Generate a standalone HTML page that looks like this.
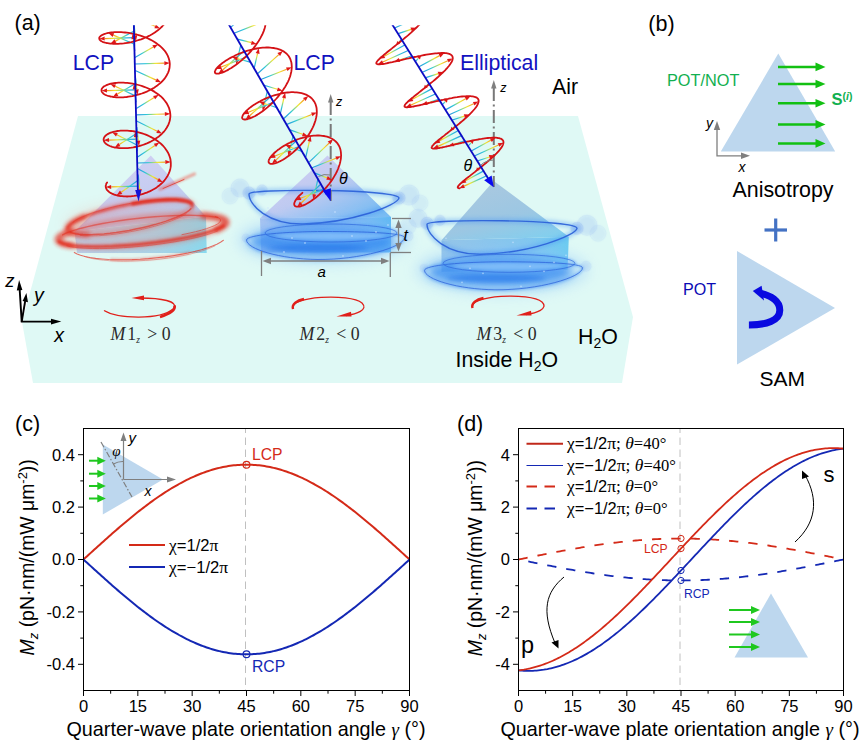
<!DOCTYPE html>
<html><head><meta charset="utf-8"><title>figure</title>
<style>html,body{margin:0;padding:0;background:#fff;}svg{display:block;}svg{font-family:"Liberation Sans",sans-serif;}</style>
</head><body>
<svg width="866" height="748" viewBox="0 0 866 748">
<rect width="866" height="748" fill="#fff"/>
<!-- panel a -->
<defs><filter id="blur1" filterUnits="userSpaceOnUse" x="0" y="120" width="700" height="200"><feGaussianBlur stdDeviation="1.1"/></filter><filter id="blur4" filterUnits="userSpaceOnUse" x="0" y="120" width="700" height="200"><feGaussianBlur stdDeviation="4"/></filter><filter id="blur6" filterUnits="userSpaceOnUse" x="0" y="120" width="700" height="200"><feGaussianBlur stdDeviation="7"/></filter><filter id="blur2" filterUnits="userSpaceOnUse" x="0" y="120" width="700" height="200"><feGaussianBlur stdDeviation="2.2"/></filter><filter id="blur05" filterUnits="userSpaceOnUse" x="0" y="120" width="700" height="200"><feGaussianBlur stdDeviation="0.5"/></filter><linearGradient id="pr1" x1="0.3" y1="0" x2="0.8" y2="1"><stop offset="0" stop-color="#d0ccf3"/><stop offset="0.55" stop-color="#c2c8f0"/><stop offset="1" stop-color="#9fd0f0"/></linearGradient>
<linearGradient id="pf1" x1="0" y1="0" x2="1" y2="0"><stop offset="0" stop-color="#b4cdea"/><stop offset="0.6" stop-color="#9fd2ea"/><stop offset="1" stop-color="#7fd6ee"/></linearGradient>
<linearGradient id="pr2" x1="0.15" y1="0.2" x2="0.9" y2="0.9"><stop offset="0" stop-color="#cdcaf2"/><stop offset="0.45" stop-color="#bcc6f0"/><stop offset="1" stop-color="#6fb6f2"/></linearGradient>
<linearGradient id="pf2" x1="0" y1="0" x2="1" y2="0"><stop offset="0" stop-color="#a4bcee"/><stop offset="0.7" stop-color="#74b0f2"/><stop offset="1" stop-color="#4eb0f2"/></linearGradient>
<linearGradient id="pr3" x1="0.2" y1="0" x2="0.8" y2="1"><stop offset="0" stop-color="#a9c6de"/><stop offset="0.6" stop-color="#98c4e2"/><stop offset="1" stop-color="#7ccdee"/></linearGradient>
<linearGradient id="pf3" x1="0" y1="0" x2="1" y2="0"><stop offset="0" stop-color="#8fc0e6"/><stop offset="0.7" stop-color="#78c2ee"/><stop offset="1" stop-color="#62c8f0"/></linearGradient>
<clipPath id="topclip"><rect x="0" y="25.2" width="866" height="400"/></clipPath>
<linearGradient id="ga0" gradientUnits="userSpaceOnUse" x1="133.4" y1="3.8" x2="157.3" y2="-8.5"><stop offset="0" stop-color="#2a90e0"/><stop offset="0.3" stop-color="#2cc8d8"/><stop offset="0.6" stop-color="#f2e630"/><stop offset="0.82" stop-color="#f49a20"/><stop offset="1" stop-color="#e01818"/></linearGradient>
<linearGradient id="ga1" gradientUnits="userSpaceOnUse" x1="133.6" y1="10.6" x2="169.1" y2="9.5"><stop offset="0" stop-color="#2a90e0"/><stop offset="0.3" stop-color="#2cc8d8"/><stop offset="0.6" stop-color="#f2e630"/><stop offset="0.82" stop-color="#f49a20"/><stop offset="1" stop-color="#e01818"/></linearGradient>
<linearGradient id="ga2" gradientUnits="userSpaceOnUse" x1="133.8" y1="17.4" x2="160.1" y2="28.4"><stop offset="0" stop-color="#2a90e0"/><stop offset="0.3" stop-color="#2cc8d8"/><stop offset="0.6" stop-color="#f2e630"/><stop offset="0.82" stop-color="#f49a20"/><stop offset="1" stop-color="#e01818"/></linearGradient>
<linearGradient id="ga3" gradientUnits="userSpaceOnUse" x1="134.0" y1="24.2" x2="135.9" y2="40.9"><stop offset="0" stop-color="#2a90e0"/><stop offset="0.3" stop-color="#2cc8d8"/><stop offset="0.6" stop-color="#f2e630"/><stop offset="0.82" stop-color="#f49a20"/><stop offset="1" stop-color="#e01818"/></linearGradient>
<linearGradient id="ga4" gradientUnits="userSpaceOnUse" x1="134.2" y1="31.0" x2="110.7" y2="43.6"><stop offset="0" stop-color="#2a90e0"/><stop offset="0.3" stop-color="#2cc8d8"/><stop offset="0.6" stop-color="#f2e630"/><stop offset="0.82" stop-color="#f49a20"/><stop offset="1" stop-color="#e01818"/></linearGradient>
<linearGradient id="ga5" gradientUnits="userSpaceOnUse" x1="134.3" y1="37.7" x2="99.3" y2="38.7"><stop offset="0" stop-color="#2a90e0"/><stop offset="0.3" stop-color="#2cc8d8"/><stop offset="0.6" stop-color="#f2e630"/><stop offset="0.82" stop-color="#f49a20"/><stop offset="1" stop-color="#e01818"/></linearGradient>
<linearGradient id="ga6" gradientUnits="userSpaceOnUse" x1="134.5" y1="44.3" x2="108.4" y2="32.9"><stop offset="0" stop-color="#2a90e0"/><stop offset="0.3" stop-color="#2cc8d8"/><stop offset="0.6" stop-color="#f2e630"/><stop offset="0.82" stop-color="#f49a20"/><stop offset="1" stop-color="#e01818"/></linearGradient>
<linearGradient id="ga7" gradientUnits="userSpaceOnUse" x1="134.7" y1="50.9" x2="132.7" y2="33.6"><stop offset="0" stop-color="#2a90e0"/><stop offset="0.3" stop-color="#2cc8d8"/><stop offset="0.6" stop-color="#f2e630"/><stop offset="0.82" stop-color="#f49a20"/><stop offset="1" stop-color="#e01818"/></linearGradient>
<linearGradient id="ga8" gradientUnits="userSpaceOnUse" x1="134.9" y1="57.5" x2="158.0" y2="44.4"><stop offset="0" stop-color="#2a90e0"/><stop offset="0.3" stop-color="#2cc8d8"/><stop offset="0.6" stop-color="#f2e630"/><stop offset="0.82" stop-color="#f49a20"/><stop offset="1" stop-color="#e01818"/></linearGradient>
<linearGradient id="ga9" gradientUnits="userSpaceOnUse" x1="135.1" y1="64.0" x2="169.7" y2="63.0"><stop offset="0" stop-color="#2a90e0"/><stop offset="0.3" stop-color="#2cc8d8"/><stop offset="0.6" stop-color="#f2e630"/><stop offset="0.82" stop-color="#f49a20"/><stop offset="1" stop-color="#e01818"/></linearGradient>
<linearGradient id="ga10" gradientUnits="userSpaceOnUse" x1="135.2" y1="70.5" x2="161.1" y2="82.3"><stop offset="0" stop-color="#2a90e0"/><stop offset="0.3" stop-color="#2cc8d8"/><stop offset="0.6" stop-color="#f2e630"/><stop offset="0.82" stop-color="#f49a20"/><stop offset="1" stop-color="#e01818"/></linearGradient>
<linearGradient id="ga11" gradientUnits="userSpaceOnUse" x1="135.4" y1="77.0" x2="137.5" y2="94.9"><stop offset="0" stop-color="#2a90e0"/><stop offset="0.3" stop-color="#2cc8d8"/><stop offset="0.6" stop-color="#f2e630"/><stop offset="0.82" stop-color="#f49a20"/><stop offset="1" stop-color="#e01818"/></linearGradient>
<linearGradient id="ga12" gradientUnits="userSpaceOnUse" x1="135.6" y1="83.4" x2="112.8" y2="96.9"><stop offset="0" stop-color="#2a90e0"/><stop offset="0.3" stop-color="#2cc8d8"/><stop offset="0.6" stop-color="#f2e630"/><stop offset="0.82" stop-color="#f49a20"/><stop offset="1" stop-color="#e01818"/></linearGradient>
<linearGradient id="ga13" gradientUnits="userSpaceOnUse" x1="135.8" y1="89.8" x2="101.5" y2="90.8"><stop offset="0" stop-color="#2a90e0"/><stop offset="0.3" stop-color="#2cc8d8"/><stop offset="0.6" stop-color="#f2e630"/><stop offset="0.82" stop-color="#f49a20"/><stop offset="1" stop-color="#e01818"/></linearGradient>
<linearGradient id="ga14" gradientUnits="userSpaceOnUse" x1="135.9" y1="96.1" x2="110.3" y2="83.9"><stop offset="0" stop-color="#2a90e0"/><stop offset="0.3" stop-color="#2cc8d8"/><stop offset="0.6" stop-color="#f2e630"/><stop offset="0.82" stop-color="#f49a20"/><stop offset="1" stop-color="#e01818"/></linearGradient>
<linearGradient id="ga15" gradientUnits="userSpaceOnUse" x1="136.1" y1="102.4" x2="134.0" y2="83.9"><stop offset="0" stop-color="#2a90e0"/><stop offset="0.3" stop-color="#2cc8d8"/><stop offset="0.6" stop-color="#f2e630"/><stop offset="0.82" stop-color="#f49a20"/><stop offset="1" stop-color="#e01818"/></linearGradient>
<linearGradient id="ga16" gradientUnits="userSpaceOnUse" x1="136.3" y1="108.6" x2="158.8" y2="94.7"><stop offset="0" stop-color="#2a90e0"/><stop offset="0.3" stop-color="#2cc8d8"/><stop offset="0.6" stop-color="#f2e630"/><stop offset="0.82" stop-color="#f49a20"/><stop offset="1" stop-color="#e01818"/></linearGradient>
<linearGradient id="ga17" gradientUnits="userSpaceOnUse" x1="136.4" y1="114.8" x2="170.3" y2="113.8"><stop offset="0" stop-color="#2a90e0"/><stop offset="0.3" stop-color="#2cc8d8"/><stop offset="0.6" stop-color="#f2e630"/><stop offset="0.82" stop-color="#f49a20"/><stop offset="1" stop-color="#e01818"/></linearGradient>
<linearGradient id="ga18" gradientUnits="userSpaceOnUse" x1="136.6" y1="121.0" x2="162.0" y2="133.6"><stop offset="0" stop-color="#2a90e0"/><stop offset="0.3" stop-color="#2cc8d8"/><stop offset="0.6" stop-color="#f2e630"/><stop offset="0.82" stop-color="#f49a20"/><stop offset="1" stop-color="#e01818"/></linearGradient>
<linearGradient id="ga19" gradientUnits="userSpaceOnUse" x1="136.8" y1="127.1" x2="139.0" y2="146.1"><stop offset="0" stop-color="#2a90e0"/><stop offset="0.3" stop-color="#2cc8d8"/><stop offset="0.6" stop-color="#f2e630"/><stop offset="0.82" stop-color="#f49a20"/><stop offset="1" stop-color="#e01818"/></linearGradient>
<linearGradient id="ga20" gradientUnits="userSpaceOnUse" x1="136.9" y1="133.2" x2="114.8" y2="147.4"><stop offset="0" stop-color="#2a90e0"/><stop offset="0.3" stop-color="#2cc8d8"/><stop offset="0.6" stop-color="#f2e630"/><stop offset="0.82" stop-color="#f49a20"/><stop offset="1" stop-color="#e01818"/></linearGradient>
<linearGradient id="ga21" gradientUnits="userSpaceOnUse" x1="137.1" y1="139.2" x2="103.7" y2="140.2"><stop offset="0" stop-color="#2a90e0"/><stop offset="0.3" stop-color="#2cc8d8"/><stop offset="0.6" stop-color="#f2e630"/><stop offset="0.82" stop-color="#f49a20"/><stop offset="1" stop-color="#e01818"/></linearGradient>
<linearGradient id="ga22" gradientUnits="userSpaceOnUse" x1="137.3" y1="145.2" x2="112.1" y2="132.2"><stop offset="0" stop-color="#2a90e0"/><stop offset="0.3" stop-color="#2cc8d8"/><stop offset="0.6" stop-color="#f2e630"/><stop offset="0.82" stop-color="#f49a20"/><stop offset="1" stop-color="#e01818"/></linearGradient>
<linearGradient id="ga23" gradientUnits="userSpaceOnUse" x1="137.4" y1="151.2" x2="135.2" y2="131.6"><stop offset="0" stop-color="#2a90e0"/><stop offset="0.3" stop-color="#2cc8d8"/><stop offset="0.6" stop-color="#f2e630"/><stop offset="0.82" stop-color="#f49a20"/><stop offset="1" stop-color="#e01818"/></linearGradient>
<linearGradient id="ga24" gradientUnits="userSpaceOnUse" x1="137.6" y1="157.1" x2="159.4" y2="142.5"><stop offset="0" stop-color="#2a90e0"/><stop offset="0.3" stop-color="#2cc8d8"/><stop offset="0.6" stop-color="#f2e630"/><stop offset="0.82" stop-color="#f49a20"/><stop offset="1" stop-color="#e01818"/></linearGradient>
<linearGradient id="ga25" gradientUnits="userSpaceOnUse" x1="137.8" y1="163.0" x2="170.8" y2="162.0"><stop offset="0" stop-color="#2a90e0"/><stop offset="0.3" stop-color="#2cc8d8"/><stop offset="0.6" stop-color="#f2e630"/><stop offset="0.82" stop-color="#f49a20"/><stop offset="1" stop-color="#e01818"/></linearGradient>
<linearGradient id="ga26" gradientUnits="userSpaceOnUse" x1="137.9" y1="168.8" x2="162.8" y2="182.2"><stop offset="0" stop-color="#2a90e0"/><stop offset="0.3" stop-color="#2cc8d8"/><stop offset="0.6" stop-color="#f2e630"/><stop offset="0.82" stop-color="#f49a20"/><stop offset="1" stop-color="#e01818"/></linearGradient>
<linearGradient id="ga27" gradientUnits="userSpaceOnUse" x1="138.1" y1="174.6" x2="140.4" y2="194.7"><stop offset="0" stop-color="#2a90e0"/><stop offset="0.3" stop-color="#2cc8d8"/><stop offset="0.6" stop-color="#f2e630"/><stop offset="0.82" stop-color="#f49a20"/><stop offset="1" stop-color="#e01818"/></linearGradient>
<linearGradient id="ga28" gradientUnits="userSpaceOnUse" x1="138.2" y1="180.3" x2="116.7" y2="195.3"><stop offset="0" stop-color="#2a90e0"/><stop offset="0.3" stop-color="#2cc8d8"/><stop offset="0.6" stop-color="#f2e630"/><stop offset="0.82" stop-color="#f49a20"/><stop offset="1" stop-color="#e01818"/></linearGradient>
<linearGradient id="ga29" gradientUnits="userSpaceOnUse" x1="138.4" y1="186.1" x2="105.8" y2="187.0"><stop offset="0" stop-color="#2a90e0"/><stop offset="0.3" stop-color="#2cc8d8"/><stop offset="0.6" stop-color="#f2e630"/><stop offset="0.82" stop-color="#f49a20"/><stop offset="1" stop-color="#e01818"/></linearGradient>
<linearGradient id="gb0" gradientUnits="userSpaceOnUse" x1="230.6" y1="27.4" x2="256.4" y2="4.7"><stop offset="0" stop-color="#2a90e0"/><stop offset="0.3" stop-color="#2cc8d8"/><stop offset="0.6" stop-color="#f2e630"/><stop offset="0.82" stop-color="#f49a20"/><stop offset="1" stop-color="#e01818"/></linearGradient>
<linearGradient id="gb1" gradientUnits="userSpaceOnUse" x1="234.0" y1="33.3" x2="265.9" y2="20.6"><stop offset="0" stop-color="#2a90e0"/><stop offset="0.3" stop-color="#2cc8d8"/><stop offset="0.6" stop-color="#f2e630"/><stop offset="0.82" stop-color="#f49a20"/><stop offset="1" stop-color="#e01818"/></linearGradient>
<linearGradient id="gb2" gradientUnits="userSpaceOnUse" x1="237.4" y1="39.1" x2="256.6" y2="44.1"><stop offset="0" stop-color="#2a90e0"/><stop offset="0.3" stop-color="#2cc8d8"/><stop offset="0.6" stop-color="#f2e630"/><stop offset="0.82" stop-color="#f49a20"/><stop offset="1" stop-color="#e01818"/></linearGradient>
<linearGradient id="gb3" gradientUnits="userSpaceOnUse" x1="240.8" y1="45.0" x2="236.2" y2="64.6"><stop offset="0" stop-color="#2a90e0"/><stop offset="0.3" stop-color="#2cc8d8"/><stop offset="0.6" stop-color="#f2e630"/><stop offset="0.82" stop-color="#f49a20"/><stop offset="1" stop-color="#e01818"/></linearGradient>
<linearGradient id="gb4" gradientUnits="userSpaceOnUse" x1="244.2" y1="50.8" x2="218.6" y2="73.6"><stop offset="0" stop-color="#2a90e0"/><stop offset="0.3" stop-color="#2cc8d8"/><stop offset="0.6" stop-color="#f2e630"/><stop offset="0.82" stop-color="#f49a20"/><stop offset="1" stop-color="#e01818"/></linearGradient>
<linearGradient id="gb5" gradientUnits="userSpaceOnUse" x1="247.5" y1="56.6" x2="216.1" y2="69.0"><stop offset="0" stop-color="#2a90e0"/><stop offset="0.3" stop-color="#2cc8d8"/><stop offset="0.6" stop-color="#f2e630"/><stop offset="0.82" stop-color="#f49a20"/><stop offset="1" stop-color="#e01818"/></linearGradient>
<linearGradient id="gb6" gradientUnits="userSpaceOnUse" x1="250.9" y1="62.4" x2="232.0" y2="57.1"><stop offset="0" stop-color="#2a90e0"/><stop offset="0.3" stop-color="#2cc8d8"/><stop offset="0.6" stop-color="#f2e630"/><stop offset="0.82" stop-color="#f49a20"/><stop offset="1" stop-color="#e01818"/></linearGradient>
<linearGradient id="gb7" gradientUnits="userSpaceOnUse" x1="254.2" y1="68.1" x2="258.8" y2="48.2"><stop offset="0" stop-color="#2a90e0"/><stop offset="0.3" stop-color="#2cc8d8"/><stop offset="0.6" stop-color="#f2e630"/><stop offset="0.82" stop-color="#f49a20"/><stop offset="1" stop-color="#e01818"/></linearGradient>
<linearGradient id="gb8" gradientUnits="userSpaceOnUse" x1="257.5" y1="73.8" x2="282.8" y2="51.0"><stop offset="0" stop-color="#2a90e0"/><stop offset="0.3" stop-color="#2cc8d8"/><stop offset="0.6" stop-color="#f2e630"/><stop offset="0.82" stop-color="#f49a20"/><stop offset="1" stop-color="#e01818"/></linearGradient>
<linearGradient id="gb9" gradientUnits="userSpaceOnUse" x1="260.8" y1="79.5" x2="291.7" y2="67.3"><stop offset="0" stop-color="#2a90e0"/><stop offset="0.3" stop-color="#2cc8d8"/><stop offset="0.6" stop-color="#f2e630"/><stop offset="0.82" stop-color="#f49a20"/><stop offset="1" stop-color="#e01818"/></linearGradient>
<linearGradient id="gb10" gradientUnits="userSpaceOnUse" x1="264.1" y1="85.2" x2="282.6" y2="90.8"><stop offset="0" stop-color="#2a90e0"/><stop offset="0.3" stop-color="#2cc8d8"/><stop offset="0.6" stop-color="#f2e630"/><stop offset="0.82" stop-color="#f49a20"/><stop offset="1" stop-color="#e01818"/></linearGradient>
<linearGradient id="gb11" gradientUnits="userSpaceOnUse" x1="267.4" y1="90.9" x2="262.7" y2="111.1"><stop offset="0" stop-color="#2a90e0"/><stop offset="0.3" stop-color="#2cc8d8"/><stop offset="0.6" stop-color="#f2e630"/><stop offset="0.82" stop-color="#f49a20"/><stop offset="1" stop-color="#e01818"/></linearGradient>
<linearGradient id="gb12" gradientUnits="userSpaceOnUse" x1="270.7" y1="96.5" x2="245.7" y2="119.4"><stop offset="0" stop-color="#2a90e0"/><stop offset="0.3" stop-color="#2cc8d8"/><stop offset="0.6" stop-color="#f2e630"/><stop offset="0.82" stop-color="#f49a20"/><stop offset="1" stop-color="#e01818"/></linearGradient>
<linearGradient id="gb13" gradientUnits="userSpaceOnUse" x1="273.9" y1="102.1" x2="243.4" y2="114.2"><stop offset="0" stop-color="#2a90e0"/><stop offset="0.3" stop-color="#2cc8d8"/><stop offset="0.6" stop-color="#f2e630"/><stop offset="0.82" stop-color="#f49a20"/><stop offset="1" stop-color="#e01818"/></linearGradient>
<linearGradient id="gb14" gradientUnits="userSpaceOnUse" x1="277.2" y1="107.7" x2="259.1" y2="101.8"><stop offset="0" stop-color="#2a90e0"/><stop offset="0.3" stop-color="#2cc8d8"/><stop offset="0.6" stop-color="#f2e630"/><stop offset="0.82" stop-color="#f49a20"/><stop offset="1" stop-color="#e01818"/></linearGradient>
<linearGradient id="gb15" gradientUnits="userSpaceOnUse" x1="280.4" y1="113.3" x2="285.2" y2="92.8"><stop offset="0" stop-color="#2a90e0"/><stop offset="0.3" stop-color="#2cc8d8"/><stop offset="0.6" stop-color="#f2e630"/><stop offset="0.82" stop-color="#f49a20"/><stop offset="1" stop-color="#e01818"/></linearGradient>
<linearGradient id="gb16" gradientUnits="userSpaceOnUse" x1="283.6" y1="118.8" x2="308.3" y2="95.9"><stop offset="0" stop-color="#2a90e0"/><stop offset="0.3" stop-color="#2cc8d8"/><stop offset="0.6" stop-color="#f2e630"/><stop offset="0.82" stop-color="#f49a20"/><stop offset="1" stop-color="#e01818"/></linearGradient>
<linearGradient id="gb17" gradientUnits="userSpaceOnUse" x1="286.8" y1="124.4" x2="316.8" y2="112.5"><stop offset="0" stop-color="#2a90e0"/><stop offset="0.3" stop-color="#2cc8d8"/><stop offset="0.6" stop-color="#f2e630"/><stop offset="0.82" stop-color="#f49a20"/><stop offset="1" stop-color="#e01818"/></linearGradient>
<linearGradient id="gb18" gradientUnits="userSpaceOnUse" x1="290.0" y1="129.9" x2="307.7" y2="136.1"><stop offset="0" stop-color="#2a90e0"/><stop offset="0.3" stop-color="#2cc8d8"/><stop offset="0.6" stop-color="#f2e630"/><stop offset="0.82" stop-color="#f49a20"/><stop offset="1" stop-color="#e01818"/></linearGradient>
<linearGradient id="gb19" gradientUnits="userSpaceOnUse" x1="293.2" y1="135.3" x2="288.3" y2="156.1"><stop offset="0" stop-color="#2a90e0"/><stop offset="0.3" stop-color="#2cc8d8"/><stop offset="0.6" stop-color="#f2e630"/><stop offset="0.82" stop-color="#f49a20"/><stop offset="1" stop-color="#e01818"/></linearGradient>
<linearGradient id="gb20" gradientUnits="userSpaceOnUse" x1="296.3" y1="140.8" x2="271.9" y2="163.8"><stop offset="0" stop-color="#2a90e0"/><stop offset="0.3" stop-color="#2cc8d8"/><stop offset="0.6" stop-color="#f2e630"/><stop offset="0.82" stop-color="#f49a20"/><stop offset="1" stop-color="#e01818"/></linearGradient>
<linearGradient id="gb21" gradientUnits="userSpaceOnUse" x1="299.5" y1="146.2" x2="269.9" y2="158.0"><stop offset="0" stop-color="#2a90e0"/><stop offset="0.3" stop-color="#2cc8d8"/><stop offset="0.6" stop-color="#f2e630"/><stop offset="0.82" stop-color="#f49a20"/><stop offset="1" stop-color="#e01818"/></linearGradient>
<linearGradient id="gb22" gradientUnits="userSpaceOnUse" x1="302.6" y1="151.7" x2="285.3" y2="145.1"><stop offset="0" stop-color="#2a90e0"/><stop offset="0.3" stop-color="#2cc8d8"/><stop offset="0.6" stop-color="#f2e630"/><stop offset="0.82" stop-color="#f49a20"/><stop offset="1" stop-color="#e01818"/></linearGradient>
<linearGradient id="gb23" gradientUnits="userSpaceOnUse" x1="305.8" y1="157.0" x2="310.7" y2="136.1"><stop offset="0" stop-color="#2a90e0"/><stop offset="0.3" stop-color="#2cc8d8"/><stop offset="0.6" stop-color="#f2e630"/><stop offset="0.82" stop-color="#f49a20"/><stop offset="1" stop-color="#e01818"/></linearGradient>
<linearGradient id="gb24" gradientUnits="userSpaceOnUse" x1="308.9" y1="162.4" x2="333.0" y2="139.3"><stop offset="0" stop-color="#2a90e0"/><stop offset="0.3" stop-color="#2cc8d8"/><stop offset="0.6" stop-color="#f2e630"/><stop offset="0.82" stop-color="#f49a20"/><stop offset="1" stop-color="#e01818"/></linearGradient>
<linearGradient id="gb25" gradientUnits="userSpaceOnUse" x1="312.0" y1="167.8" x2="341.0" y2="156.2"><stop offset="0" stop-color="#2a90e0"/><stop offset="0.3" stop-color="#2cc8d8"/><stop offset="0.6" stop-color="#f2e630"/><stop offset="0.82" stop-color="#f49a20"/><stop offset="1" stop-color="#e01818"/></linearGradient>
<linearGradient id="gb26" gradientUnits="userSpaceOnUse" x1="315.0" y1="173.1" x2="332.0" y2="179.9"><stop offset="0" stop-color="#2a90e0"/><stop offset="0.3" stop-color="#2cc8d8"/><stop offset="0.6" stop-color="#f2e630"/><stop offset="0.82" stop-color="#f49a20"/><stop offset="1" stop-color="#e01818"/></linearGradient>
<linearGradient id="gb27" gradientUnits="userSpaceOnUse" x1="318.1" y1="178.4" x2="313.2" y2="199.6"><stop offset="0" stop-color="#2a90e0"/><stop offset="0.3" stop-color="#2cc8d8"/><stop offset="0.6" stop-color="#f2e630"/><stop offset="0.82" stop-color="#f49a20"/><stop offset="1" stop-color="#e01818"/></linearGradient>
<linearGradient id="gb28" gradientUnits="userSpaceOnUse" x1="321.2" y1="183.7" x2="297.4" y2="206.7"><stop offset="0" stop-color="#2a90e0"/><stop offset="0.3" stop-color="#2cc8d8"/><stop offset="0.6" stop-color="#f2e630"/><stop offset="0.82" stop-color="#f49a20"/><stop offset="1" stop-color="#e01818"/></linearGradient>
<linearGradient id="gb29" gradientUnits="userSpaceOnUse" x1="324.2" y1="188.9" x2="295.6" y2="200.3"><stop offset="0" stop-color="#2a90e0"/><stop offset="0.3" stop-color="#2cc8d8"/><stop offset="0.6" stop-color="#f2e630"/><stop offset="0.82" stop-color="#f49a20"/><stop offset="1" stop-color="#e01818"/></linearGradient>
<linearGradient id="gc0" gradientUnits="userSpaceOnUse" x1="387.5" y1="16.7" x2="393.1" y2="10.9"><stop offset="0" stop-color="#2a90e0"/><stop offset="0.3" stop-color="#2cc8d8"/><stop offset="0.6" stop-color="#f2e630"/><stop offset="0.82" stop-color="#f49a20"/><stop offset="1" stop-color="#e01818"/></linearGradient>
<linearGradient id="gc1" gradientUnits="userSpaceOnUse" x1="391.1" y1="22.4" x2="417.1" y2="8.3"><stop offset="0" stop-color="#2a90e0"/><stop offset="0.3" stop-color="#2cc8d8"/><stop offset="0.6" stop-color="#f2e630"/><stop offset="0.82" stop-color="#f49a20"/><stop offset="1" stop-color="#e01818"/></linearGradient>
<linearGradient id="gc2" gradientUnits="userSpaceOnUse" x1="394.6" y1="28.0" x2="425.8" y2="13.9"><stop offset="0" stop-color="#2a90e0"/><stop offset="0.3" stop-color="#2cc8d8"/><stop offset="0.6" stop-color="#f2e630"/><stop offset="0.82" stop-color="#f49a20"/><stop offset="1" stop-color="#e01818"/></linearGradient>
<linearGradient id="gc3" gradientUnits="userSpaceOnUse" x1="398.2" y1="33.6" x2="416.3" y2="27.8"><stop offset="0" stop-color="#2a90e0"/><stop offset="0.3" stop-color="#2cc8d8"/><stop offset="0.6" stop-color="#f2e630"/><stop offset="0.82" stop-color="#f49a20"/><stop offset="1" stop-color="#e01818"/></linearGradient>
<linearGradient id="gc4" gradientUnits="userSpaceOnUse" x1="401.7" y1="39.2" x2="396.2" y2="45.0"><stop offset="0" stop-color="#2a90e0"/><stop offset="0.3" stop-color="#2cc8d8"/><stop offset="0.6" stop-color="#f2e630"/><stop offset="0.82" stop-color="#f49a20"/><stop offset="1" stop-color="#e01818"/></linearGradient>
<linearGradient id="gc5" gradientUnits="userSpaceOnUse" x1="405.2" y1="44.8" x2="379.5" y2="58.7"><stop offset="0" stop-color="#2a90e0"/><stop offset="0.3" stop-color="#2cc8d8"/><stop offset="0.6" stop-color="#f2e630"/><stop offset="0.82" stop-color="#f49a20"/><stop offset="1" stop-color="#e01818"/></linearGradient>
<linearGradient id="gc6" gradientUnits="userSpaceOnUse" x1="408.7" y1="50.3" x2="377.9" y2="64.3"><stop offset="0" stop-color="#2a90e0"/><stop offset="0.3" stop-color="#2cc8d8"/><stop offset="0.6" stop-color="#f2e630"/><stop offset="0.82" stop-color="#f49a20"/><stop offset="1" stop-color="#e01818"/></linearGradient>
<linearGradient id="gc7" gradientUnits="userSpaceOnUse" x1="412.1" y1="55.8" x2="394.3" y2="61.6"><stop offset="0" stop-color="#2a90e0"/><stop offset="0.3" stop-color="#2cc8d8"/><stop offset="0.6" stop-color="#f2e630"/><stop offset="0.82" stop-color="#f49a20"/><stop offset="1" stop-color="#e01818"/></linearGradient>
<linearGradient id="gc8" gradientUnits="userSpaceOnUse" x1="415.6" y1="61.3" x2="421.0" y2="55.7"><stop offset="0" stop-color="#2a90e0"/><stop offset="0.3" stop-color="#2cc8d8"/><stop offset="0.6" stop-color="#f2e630"/><stop offset="0.82" stop-color="#f49a20"/><stop offset="1" stop-color="#e01818"/></linearGradient>
<linearGradient id="gc9" gradientUnits="userSpaceOnUse" x1="419.0" y1="66.8" x2="444.3" y2="53.1"><stop offset="0" stop-color="#2a90e0"/><stop offset="0.3" stop-color="#2cc8d8"/><stop offset="0.6" stop-color="#f2e630"/><stop offset="0.82" stop-color="#f49a20"/><stop offset="1" stop-color="#e01818"/></linearGradient>
<linearGradient id="gc10" gradientUnits="userSpaceOnUse" x1="422.4" y1="72.2" x2="452.7" y2="58.5"><stop offset="0" stop-color="#2a90e0"/><stop offset="0.3" stop-color="#2cc8d8"/><stop offset="0.6" stop-color="#f2e630"/><stop offset="0.82" stop-color="#f49a20"/><stop offset="1" stop-color="#e01818"/></linearGradient>
<linearGradient id="gc11" gradientUnits="userSpaceOnUse" x1="425.8" y1="77.6" x2="443.4" y2="71.9"><stop offset="0" stop-color="#2a90e0"/><stop offset="0.3" stop-color="#2cc8d8"/><stop offset="0.6" stop-color="#f2e630"/><stop offset="0.82" stop-color="#f49a20"/><stop offset="1" stop-color="#e01818"/></linearGradient>
<linearGradient id="gc12" gradientUnits="userSpaceOnUse" x1="429.2" y1="83.0" x2="423.9" y2="88.6"><stop offset="0" stop-color="#2a90e0"/><stop offset="0.3" stop-color="#2cc8d8"/><stop offset="0.6" stop-color="#f2e630"/><stop offset="0.82" stop-color="#f49a20"/><stop offset="1" stop-color="#e01818"/></linearGradient>
<linearGradient id="gc13" gradientUnits="userSpaceOnUse" x1="432.6" y1="88.4" x2="407.6" y2="101.9"><stop offset="0" stop-color="#2a90e0"/><stop offset="0.3" stop-color="#2cc8d8"/><stop offset="0.6" stop-color="#f2e630"/><stop offset="0.82" stop-color="#f49a20"/><stop offset="1" stop-color="#e01818"/></linearGradient>
<linearGradient id="gc14" gradientUnits="userSpaceOnUse" x1="435.9" y1="93.7" x2="406.0" y2="107.3"><stop offset="0" stop-color="#2a90e0"/><stop offset="0.3" stop-color="#2cc8d8"/><stop offset="0.6" stop-color="#f2e630"/><stop offset="0.82" stop-color="#f49a20"/><stop offset="1" stop-color="#e01818"/></linearGradient>
<linearGradient id="gc15" gradientUnits="userSpaceOnUse" x1="439.3" y1="99.0" x2="421.9" y2="104.7"><stop offset="0" stop-color="#2a90e0"/><stop offset="0.3" stop-color="#2cc8d8"/><stop offset="0.6" stop-color="#f2e630"/><stop offset="0.82" stop-color="#f49a20"/><stop offset="1" stop-color="#e01818"/></linearGradient>
<linearGradient id="gc16" gradientUnits="userSpaceOnUse" x1="442.6" y1="104.3" x2="447.8" y2="98.8"><stop offset="0" stop-color="#2a90e0"/><stop offset="0.3" stop-color="#2cc8d8"/><stop offset="0.6" stop-color="#f2e630"/><stop offset="0.82" stop-color="#f49a20"/><stop offset="1" stop-color="#e01818"/></linearGradient>
<linearGradient id="gc17" gradientUnits="userSpaceOnUse" x1="445.9" y1="109.6" x2="470.5" y2="96.2"><stop offset="0" stop-color="#2a90e0"/><stop offset="0.3" stop-color="#2cc8d8"/><stop offset="0.6" stop-color="#f2e630"/><stop offset="0.82" stop-color="#f49a20"/><stop offset="1" stop-color="#e01818"/></linearGradient>
<linearGradient id="gc18" gradientUnits="userSpaceOnUse" x1="449.2" y1="114.8" x2="478.6" y2="101.4"><stop offset="0" stop-color="#2a90e0"/><stop offset="0.3" stop-color="#2cc8d8"/><stop offset="0.6" stop-color="#f2e630"/><stop offset="0.82" stop-color="#f49a20"/><stop offset="1" stop-color="#e01818"/></linearGradient>
<linearGradient id="gc19" gradientUnits="userSpaceOnUse" x1="452.4" y1="120.0" x2="469.5" y2="114.4"><stop offset="0" stop-color="#2a90e0"/><stop offset="0.3" stop-color="#2cc8d8"/><stop offset="0.6" stop-color="#f2e630"/><stop offset="0.82" stop-color="#f49a20"/><stop offset="1" stop-color="#e01818"/></linearGradient>
<linearGradient id="gc20" gradientUnits="userSpaceOnUse" x1="455.7" y1="125.2" x2="450.5" y2="130.6"><stop offset="0" stop-color="#2a90e0"/><stop offset="0.3" stop-color="#2cc8d8"/><stop offset="0.6" stop-color="#f2e630"/><stop offset="0.82" stop-color="#f49a20"/><stop offset="1" stop-color="#e01818"/></linearGradient>
<linearGradient id="gc21" gradientUnits="userSpaceOnUse" x1="458.9" y1="130.3" x2="434.7" y2="143.5"><stop offset="0" stop-color="#2a90e0"/><stop offset="0.3" stop-color="#2cc8d8"/><stop offset="0.6" stop-color="#f2e630"/><stop offset="0.82" stop-color="#f49a20"/><stop offset="1" stop-color="#e01818"/></linearGradient>
<linearGradient id="gc22" gradientUnits="userSpaceOnUse" x1="462.1" y1="135.4" x2="433.1" y2="148.6"><stop offset="0" stop-color="#2a90e0"/><stop offset="0.3" stop-color="#2cc8d8"/><stop offset="0.6" stop-color="#f2e630"/><stop offset="0.82" stop-color="#f49a20"/><stop offset="1" stop-color="#e01818"/></linearGradient>
<linearGradient id="gc23" gradientUnits="userSpaceOnUse" x1="465.4" y1="140.5" x2="448.5" y2="146.0"><stop offset="0" stop-color="#2a90e0"/><stop offset="0.3" stop-color="#2cc8d8"/><stop offset="0.6" stop-color="#f2e630"/><stop offset="0.82" stop-color="#f49a20"/><stop offset="1" stop-color="#e01818"/></linearGradient>
<linearGradient id="gc24" gradientUnits="userSpaceOnUse" x1="468.5" y1="145.6" x2="473.6" y2="140.3"><stop offset="0" stop-color="#2a90e0"/><stop offset="0.3" stop-color="#2cc8d8"/><stop offset="0.6" stop-color="#f2e630"/><stop offset="0.82" stop-color="#f49a20"/><stop offset="1" stop-color="#e01818"/></linearGradient>
<linearGradient id="gc25" gradientUnits="userSpaceOnUse" x1="471.7" y1="150.7" x2="495.6" y2="137.7"><stop offset="0" stop-color="#2a90e0"/><stop offset="0.3" stop-color="#2cc8d8"/><stop offset="0.6" stop-color="#f2e630"/><stop offset="0.82" stop-color="#f49a20"/><stop offset="1" stop-color="#e01818"/></linearGradient>
<linearGradient id="gc26" gradientUnits="userSpaceOnUse" x1="474.9" y1="155.7" x2="503.5" y2="142.7"><stop offset="0" stop-color="#2a90e0"/><stop offset="0.3" stop-color="#2cc8d8"/><stop offset="0.6" stop-color="#f2e630"/><stop offset="0.82" stop-color="#f49a20"/><stop offset="1" stop-color="#e01818"/></linearGradient>
<linearGradient id="gc27" gradientUnits="userSpaceOnUse" x1="478.0" y1="160.7" x2="494.6" y2="155.3"><stop offset="0" stop-color="#2a90e0"/><stop offset="0.3" stop-color="#2cc8d8"/><stop offset="0.6" stop-color="#f2e630"/><stop offset="0.82" stop-color="#f49a20"/><stop offset="1" stop-color="#e01818"/></linearGradient>
<linearGradient id="gc28" gradientUnits="userSpaceOnUse" x1="481.1" y1="165.7" x2="476.1" y2="170.9"><stop offset="0" stop-color="#2a90e0"/><stop offset="0.3" stop-color="#2cc8d8"/><stop offset="0.6" stop-color="#f2e630"/><stop offset="0.82" stop-color="#f49a20"/><stop offset="1" stop-color="#e01818"/></linearGradient>
<linearGradient id="gc29" gradientUnits="userSpaceOnUse" x1="484.2" y1="170.6" x2="460.7" y2="183.4"><stop offset="0" stop-color="#2a90e0"/><stop offset="0.3" stop-color="#2cc8d8"/><stop offset="0.6" stop-color="#f2e630"/><stop offset="0.82" stop-color="#f49a20"/><stop offset="1" stop-color="#e01818"/></linearGradient>
<linearGradient id="gc30" gradientUnits="userSpaceOnUse" x1="487.3" y1="175.5" x2="459.2" y2="188.3"><stop offset="0" stop-color="#2a90e0"/><stop offset="0.3" stop-color="#2cc8d8"/><stop offset="0.6" stop-color="#f2e630"/><stop offset="0.82" stop-color="#f49a20"/><stop offset="1" stop-color="#e01818"/></linearGradient></defs>
<polygon points="78,116 578,116 633,317 622,383 33,383 22,322" fill="#dff9f5"/>
<polygon points="74.6,231.5 206,216.5 206.7,253 77,253" fill="url(#pf1)" opacity="0.9"/>
<polygon points="150.8,155.5 74.6,231.5 206,216.5" fill="url(#pr1)" opacity="0.92"/>
<polygon points="260,218.2 391,217 391,252.5 261.2,252.5" fill="url(#pf2)" opacity="0.9"/>
<polygon points="327.5,155.5 260,218.2 391,217" fill="url(#pr2)" opacity="0.92"/>
<polygon points="441.5,240.3 568.8,236.7 567.6,269.5 441.5,271.8" fill="url(#pf3)" opacity="0.92"/>
<polygon points="493.7,180.9 441.5,240.3 568.8,236.7" fill="url(#pr3)" opacity="0.95"/>
<ellipse cx="140" cy="226" rx="74" ry="22" fill="#f58070" opacity="0.2" filter="url(#blur6)"/>
<line x1="160" y1="189.3" x2="194.5" y2="174" stroke="#f04030" stroke-width="3.2" opacity="0.42" stroke-linecap="round" filter="url(#blur1)"/>
<line x1="163" y1="188.5" x2="184" y2="179.5" stroke="#e22a1c" stroke-width="1" opacity="0.7" stroke-linecap="round" filter="url(#blur05)"/>
<path d="M192.4,205.1 L192.3,206.4 L191.6,207.9 L190.1,209.5 L188.0,211.2 L185.3,213.0 L181.9,214.8 L178.0,216.6 L173.6,218.4 L168.7,220.2 L163.3,222.0 L157.6,223.7 L151.6,225.4 L145.4,227.0 L139.0,228.4 L132.4,229.8 L125.9,231.0 L119.4,232.0 L113.0,232.9 L106.8,233.6 L100.9,234.1 L95.3,234.5 L90.0,234.7 L85.2,234.6 L80.9,234.4 L77.2,234.0 L74.0,233.4 L71.4,232.6 L69.4,231.7 L68.2,230.6 L67.6,229.3 L67.7,228.0 L68.4,226.5 L69.9,224.9 L72.0,223.2 L74.7,221.4 L78.1,219.6 L82.0,217.8 L86.4,216.0 L91.3,214.2 L96.7,212.4 L102.4,210.7 L108.4,209.0 L114.6,207.4 L121.0,206.0 L127.6,204.6 L134.1,203.4 L140.6,202.4 L147.0,201.5 L153.2,200.8 L159.1,200.3 L164.7,199.9 L170.0,199.7 L174.8,199.8 L179.1,200.0 L182.8,200.4 L186.0,201.0 L188.6,201.8 L190.6,202.7 L191.8,203.8 L192.4,205.1" fill="none" stroke="#f04030" stroke-width="5.5" opacity="0.33" stroke-linecap="round" filter="url(#blur2)"/>
<path d="M67.6,228.2 L68.3,226.7 L69.7,225.0 L71.8,223.3 L74.5,221.5 L78.0,219.7 L82.0,217.8 L86.5,215.9 L91.6,214.1 L97.1,212.2 L103.0,210.5 L109.2,208.8 L115.7,207.2 L122.3,205.7 L129.0,204.4 L135.7,203.2 L142.4,202.1 L148.9,201.3 L155.2,200.6 L161.2,200.1 L166.8,199.8 L172.0,199.7 L176.7,199.8 L180.9,200.2 L184.5,200.7 L187.5,201.4 L189.8,202.3 L191.4,203.3 L192.3,204.6 L192.5,205.9 L191.9,207.4" fill="none" stroke="#e22a1c" stroke-width="2.4" opacity="0.7" stroke-linecap="round" filter="url(#blur1)"/>
<path d="M133.0,203.6 L140.0,202.5 L146.8,201.5 L153.4,200.8 L159.7,200.2 L165.7,199.9 L171.2,199.7 L176.2,199.8 L180.6,200.1 L184.4,200.7 L187.5,201.4 L189.9,202.3 L191.5,203.4" fill="none" stroke="#e22a1c" stroke-width="3.6" opacity="0.75" stroke-linecap="round" filter="url(#blur1)"/>
<path d="M87.6,234.7 L83.0,234.5 L79.0,234.2 L75.5,233.7 L72.6,233.0 L70.3,232.2 L68.7,231.2 L67.8,230.0 L67.5,228.7 L68.0,227.2 L69.1,225.7 L70.8,224.0 L73.3,222.3 L76.3,220.5 L79.9,218.7 L84.1,216.9" fill="none" stroke="#e22a1c" stroke-width="5" opacity="0.6" stroke-linecap="round" filter="url(#blur2)"/>
<path d="M190.9,208.7 L189.2,210.4 L186.7,212.1 L183.7,213.9 L180.1,215.7 L175.9,217.5 L171.2,219.3 L166.1,221.1 L160.5,222.9 L154.7,224.6 L148.5,226.2 L142.2,227.7 L135.7,229.1 L129.2,230.4 L122.6,231.5 L116.2,232.5 L109.9,233.3 L103.8,233.9 L98.0,234.3 L92.6,234.6 L87.6,234.7 L83.0,234.5 L79.0,234.2 L75.5,233.7 L72.6,233.0 L70.3,232.2" fill="none" stroke="#e22a1c" stroke-width="1.5" opacity="0.6" stroke-linecap="round" filter="url(#blur05)"/>
<path d="M186.2,213.8 L183.4,215.6 L179.9,217.3 L175.8,219.1 L171.2,220.9 L166.2,222.7 L160.7,224.5 L154.8,226.2 L148.7,227.8 L142.4,229.3 L135.9,230.7 L129.4,231.9 L122.9,233.0 L116.4,234.0 L110.2,234.7 L104.2,235.3 L98.5,235.7 L93.2,235.9 L88.4,235.9 L84.1,235.8 L80.3,235.4" fill="none" stroke="#e22a1c" stroke-width="0.8" opacity="0.5" stroke-linecap="round" filter="url(#blur05)"/>
<path d="M72.9,222.2 L75.2,220.6 L78.1,218.9 L81.6,217.2 L85.6,215.5 L90.2,213.7 L95.2,212.0 L100.6,210.4 L106.3,208.7 L112.3,207.2 L118.5,205.7 L124.8,204.4 L131.2,203.2 L137.6,202.1 L143.8,201.2 L149.9,200.5 L155.7,199.9 L161.2,199.5 L166.3,199.3 L171.0,199.2 L175.2,199.4 L178.9,199.7" fill="none" stroke="#e22a1c" stroke-width="0.8" opacity="0.5" stroke-linecap="round" filter="url(#blur05)"/>
<path d="M226.0,222.2 L225.7,223.6 L224.5,225.0 L222.3,226.6 L219.3,228.2 L215.5,229.8 L210.8,231.5 L205.4,233.1 L199.2,234.7 L192.5,236.3 L185.2,237.8 L177.4,239.2 L169.3,240.6 L160.8,241.8 L152.1,242.9 L143.4,243.9 L134.6,244.8 L125.9,245.5 L117.3,246.0 L109.1,246.4 L101.2,246.6 L93.7,246.7 L86.8,246.5 L80.5,246.2 L74.8,245.7 L69.9,245.1 L65.8,244.3 L62.5,243.4 L60.1,242.3 L58.6,241.1 L58.0,239.8 L58.3,238.4 L59.5,237.0 L61.7,235.4 L64.7,233.8 L68.5,232.2 L73.2,230.5 L78.6,228.9 L84.8,227.3 L91.5,225.7 L98.8,224.2 L106.6,222.8 L114.7,221.4 L123.2,220.2 L131.9,219.1 L140.6,218.1 L149.4,217.2 L158.1,216.5 L166.7,216.0 L174.9,215.6 L182.8,215.4 L190.3,215.3 L197.2,215.5 L203.5,215.8 L209.2,216.3 L214.1,216.9 L218.2,217.7 L221.5,218.6 L223.9,219.7 L225.4,220.9 L226.0,222.2" fill="none" stroke="#f04030" stroke-width="6.5" opacity="0.33" stroke-linecap="round" filter="url(#blur2)"/>
<path d="M223.5,225.8 L220.9,227.4 L217.4,229.0 L213.1,230.7 L208.0,232.3 L202.2,233.9 L195.7,235.5 L188.6,237.1 L181.0,238.6 L172.9,240.0 L164.5,241.3 L155.9,242.5 L147.1,243.5 L138.2,244.4 L129.4,245.2 L120.7,245.8 L112.3,246.3 L104.2,246.6 L96.5,246.7 L89.3,246.6 L82.7,246.3 L76.8,245.9 L71.6,245.4 L67.1,244.6 L63.5,243.7 L60.8,242.7 L59.0,241.5" fill="none" stroke="#e22a1c" stroke-width="3" opacity="0.8" stroke-linecap="round" filter="url(#blur1)"/>
<path d="M71.5,245.3 L66.8,244.6 L63.1,243.6 L60.4,242.5 L58.6,241.2 L58.0,239.8 L58.3,238.3 L59.8,236.7 L62.2,235.1 L65.6,233.4 L70.0,231.6" fill="none" stroke="#e22a1c" stroke-width="5.5" opacity="0.65" stroke-linecap="round" filter="url(#blur2)"/>
<path d="M203.5,215.8 L209.5,216.3 L214.6,217.0 L218.9,217.8 L222.2,218.9 L224.5,220.0 L225.8,221.3 L226.0,222.8 L225.2,224.3 L223.4,225.9 L220.6,227.6 L216.8,229.3" fill="none" stroke="#e22a1c" stroke-width="6" opacity="0.7" stroke-linecap="round" filter="url(#blur2)"/>
<path d="M62.6,234.9 L66.0,233.2 L70.2,231.6 L75.3,229.9 L81.2,228.2 L87.7,226.6 L94.9,225.0 L102.6,223.5 L110.7,222.1 L119.3,220.8 L128.0,219.5 L137.0,218.5 L146.0,217.5 L154.9,216.8 L163.7,216.1 L172.3,215.7 L180.5,215.4 L188.3,215.3 L195.5,215.4 L202.1,215.7 L208.1,216.1 L213.2,216.8 L217.6,217.5" fill="none" stroke="#e22a1c" stroke-width="1.4" opacity="0.5" stroke-linecap="round" filter="url(#blur05)"/>
<path d="M217.5,231.0 L213.5,232.6 L208.7,234.2 L203.1,235.8 L196.9,237.4 L190.1,238.9 L182.7,240.4 L174.8,241.8 L166.6,243.1 L158.1,244.3 L149.5,245.4 L140.7,246.3 L132.0,247.1 L123.5,247.7 L115.1,248.2 L107.1,248.5 L99.5,248.6 L92.3,248.5 L85.8,248.3 L79.9,247.9 L74.7,247.4 L70.4,246.7 L66.8,245.8" fill="none" stroke="#e22a1c" stroke-width="0.8" opacity="0.5" stroke-linecap="round" filter="url(#blur05)"/>
<path d="M215.3,216.6 L217.9,217.5 L219.7,218.6 L220.5,219.8 L220.4,221.1 L219.4,222.5 L217.5,224.0 L214.7,225.5 L211.0,227.0 L206.6,228.6 L201.4,230.2 L195.5,231.7 L189.0,233.2 L181.9,234.7" fill="none" stroke="#e22a1c" stroke-width="1" opacity="0.55" stroke-linecap="round" filter="url(#blur05)"/>
<path d="M223.4,240.3 L220.5,242.2 L216.9,244.2 L212.4,246.1 L207.3,247.9 L201.5,249.7 L195.1,251.4 L188.1,253.0 L180.7,254.4 L173.0,255.7 L164.9,256.9 L156.7,257.8 L148.4,258.6 L140.2,259.2 L132.0,259.6 L124.0,259.7 L116.3,259.7 L108.9,259.5 L102.1,259.0 L95.7,258.4 L90.0,257.5 L84.9,256.5 L80.6,255.3 L77.1,253.9 L74.3,252.4" fill="none" stroke="#e22a1c" stroke-width="1.1" opacity="0.65" stroke-linecap="round" filter="url(#blur05)"/>
<path d="M214.9,245.9 L211.0,247.7 L206.5,249.4 L201.4,251.1 L195.7,252.7 L189.5,254.2 L182.8,255.6 L175.8,256.9 L168.5,258.0 L161.0,259.0 L153.3,259.8 L145.7,260.4 L138.0,260.8 L130.5,261.1 L123.3,261.2 L116.3,261.0 L109.7,260.7 L103.5,260.2 L97.9,259.5 L92.8,258.7 L88.4,257.7 L84.7,256.5" fill="none" stroke="#e22a1c" stroke-width="0.8" opacity="0.45" stroke-linecap="round" filter="url(#blur05)"/>
<path d="M189.1,252.8 L182.0,254.2 L174.4,255.5 L166.6,256.7 L158.6,257.6 L150.5,258.4 L142.4,259.1 L134.3,259.5 L126.4,259.7 L118.7,259.7 L111.4,259.6" fill="none" stroke="#f04030" stroke-width="3" opacity="0.3" stroke-linecap="round" filter="url(#blur1)"/>
<g transform="translate(0,0)">
<ellipse cx="324" cy="240" rx="86" ry="24" fill="#8fc4fb" opacity="0.42" filter="url(#blur6)"/>
<ellipse cx="322" cy="242" rx="72" ry="15" fill="#2f86f0" opacity="0.72" filter="url(#blur4)"/>
<ellipse cx="330" cy="236" rx="56" ry="5" fill="#a8d8ff" opacity="0.55" filter="url(#blur2)"/>
<ellipse cx="318" cy="248" rx="50" ry="3.5" fill="#1f6ee8" opacity="0.5" filter="url(#blur2)"/>
<circle cx="249" cy="193" r="6" fill="#7fa8f2" opacity="0.4" filter="url(#blur1)"/>
<circle cx="249" cy="193" r="6" fill="none" stroke="#a8c4f6" stroke-width="0.7" opacity="0.4"/>
<circle cx="240" cy="188" r="9" fill="#7fa8f2" opacity="0.22" filter="url(#blur1)"/>
<circle cx="240" cy="188" r="9" fill="none" stroke="#a8c4f6" stroke-width="0.7" opacity="0.22"/>
<circle cx="262" cy="190" r="5" fill="#7fa8f2" opacity="0.32" filter="url(#blur1)"/>
<circle cx="262" cy="190" r="5" fill="none" stroke="#a8c4f6" stroke-width="0.7" opacity="0.32"/>
<circle cx="230" cy="196" r="8" fill="#7fa8f2" opacity="0.14" filter="url(#blur1)"/>
<circle cx="230" cy="196" r="8" fill="none" stroke="#a8c4f6" stroke-width="0.7" opacity="0.14"/>
<circle cx="399" cy="198" r="6" fill="#7fa8f2" opacity="0.4" filter="url(#blur1)"/>
<circle cx="399" cy="198" r="6" fill="none" stroke="#a8c4f6" stroke-width="0.7" opacity="0.4"/>
<circle cx="409" cy="195" r="10" fill="#7fa8f2" opacity="0.22" filter="url(#blur1)"/>
<circle cx="409" cy="195" r="10" fill="none" stroke="#a8c4f6" stroke-width="0.7" opacity="0.22"/>
<circle cx="420" cy="203" r="8" fill="#7fa8f2" opacity="0.14" filter="url(#blur1)"/>
<circle cx="420" cy="203" r="8" fill="none" stroke="#a8c4f6" stroke-width="0.7" opacity="0.14"/>
<circle cx="246" cy="238" r="4" fill="#7fa8f2" opacity="0.22" filter="url(#blur1)"/>
<circle cx="246" cy="238" r="4" fill="none" stroke="#a8c4f6" stroke-width="0.7" opacity="0.22"/>
<circle cx="408" cy="236" r="5" fill="#7fa8f2" opacity="0.22" filter="url(#blur1)"/>
<circle cx="408" cy="236" r="5" fill="none" stroke="#a8c4f6" stroke-width="0.7" opacity="0.22"/>
<path d="M249,194 C249,191 282,190 324,190.5 C366,191 399,194 399,198 C398,205 352,223 303,224 C268,224.5 249,205 249,194 Z" fill="none" stroke="#4a94f4" stroke-width="4.5" opacity="0.45" filter="url(#blur2)"/>
<path d="M249,194 C249,191 282,190 324,190.5 C366,191 399,194 399,198 C398,205 352,223 303,224 C268,224.5 249,205 249,194 Z" fill="none" stroke="#2a5fd8" stroke-width="1.4" opacity="0.9" filter="url(#blur05)"/>
<path d="M246.5,240 C246.5,235 285,231.5 325,231.5 C365,231.5 404.5,233 404.5,237.5 C404.5,247 360,260 317,259.5 C280,259 246.5,249 246.5,240 Z" fill="none" stroke="#4a94f4" stroke-width="3" opacity="0.4" filter="url(#blur1)"/>
<path d="M246.5,240 C246.5,235 285,231.5 325,231.5 C365,231.5 404.5,233 404.5,237.5 C404.5,247 360,260 317,259.5 C280,259 246.5,249 246.5,240 Z" fill="none" stroke="#2a5fd8" stroke-width="0.9" opacity="0.8" filter="url(#blur05)"/>
<ellipse cx="331.0" cy="233.0" rx="66.0" ry="9.0" transform="rotate(0 331.0 233.0)" fill="none" stroke="#4a94f4" stroke-width="2.6" opacity="0.4" filter="url(#blur1)" />
<ellipse cx="331.0" cy="233.0" rx="66.0" ry="9.0" transform="rotate(0 331.0 233.0)" fill="none" stroke="#2a5fd8" stroke-width="0.8" opacity="0.75" filter="url(#blur05)" />
<circle cx="268" cy="208" r="0.9" fill="#cfe6ff" opacity="0.6"/>
<circle cx="292" cy="238" r="0.9" fill="#cfe6ff" opacity="0.6"/>
<circle cx="305" cy="243" r="0.9" fill="#cfe6ff" opacity="0.6"/>
<circle cx="335" cy="212" r="0.9" fill="#cfe6ff" opacity="0.6"/>
<circle cx="352" cy="236" r="0.9" fill="#cfe6ff" opacity="0.6"/>
<circle cx="366" cy="241" r="0.9" fill="#cfe6ff" opacity="0.6"/>
<circle cx="376" cy="232" r="0.9" fill="#cfe6ff" opacity="0.6"/>
<circle cx="284" cy="252" r="0.9" fill="#cfe6ff" opacity="0.6"/>
<circle cx="343" cy="256" r="0.9" fill="#cfe6ff" opacity="0.6"/>
<circle cx="388" cy="225" r="0.9" fill="#cfe6ff" opacity="0.6"/>
</g>
<g transform="translate(178,30.3)">
<ellipse cx="324" cy="240" rx="86" ry="24" fill="#8fc4fb" opacity="0.42" filter="url(#blur6)"/>
<ellipse cx="322" cy="242" rx="72" ry="15" fill="#2f86f0" opacity="0.72" filter="url(#blur4)"/>
<ellipse cx="330" cy="236" rx="56" ry="5" fill="#a8d8ff" opacity="0.55" filter="url(#blur2)"/>
<ellipse cx="318" cy="248" rx="50" ry="3.5" fill="#1f6ee8" opacity="0.5" filter="url(#blur2)"/>
<circle cx="249" cy="193" r="6" fill="#7fa8f2" opacity="0.4" filter="url(#blur1)"/>
<circle cx="249" cy="193" r="6" fill="none" stroke="#a8c4f6" stroke-width="0.7" opacity="0.4"/>
<circle cx="240" cy="188" r="9" fill="#7fa8f2" opacity="0.22" filter="url(#blur1)"/>
<circle cx="240" cy="188" r="9" fill="none" stroke="#a8c4f6" stroke-width="0.7" opacity="0.22"/>
<circle cx="262" cy="190" r="5" fill="#7fa8f2" opacity="0.32" filter="url(#blur1)"/>
<circle cx="262" cy="190" r="5" fill="none" stroke="#a8c4f6" stroke-width="0.7" opacity="0.32"/>
<circle cx="230" cy="196" r="8" fill="#7fa8f2" opacity="0.14" filter="url(#blur1)"/>
<circle cx="230" cy="196" r="8" fill="none" stroke="#a8c4f6" stroke-width="0.7" opacity="0.14"/>
<circle cx="399" cy="198" r="6" fill="#7fa8f2" opacity="0.4" filter="url(#blur1)"/>
<circle cx="399" cy="198" r="6" fill="none" stroke="#a8c4f6" stroke-width="0.7" opacity="0.4"/>
<circle cx="409" cy="195" r="10" fill="#7fa8f2" opacity="0.22" filter="url(#blur1)"/>
<circle cx="409" cy="195" r="10" fill="none" stroke="#a8c4f6" stroke-width="0.7" opacity="0.22"/>
<circle cx="420" cy="203" r="8" fill="#7fa8f2" opacity="0.14" filter="url(#blur1)"/>
<circle cx="420" cy="203" r="8" fill="none" stroke="#a8c4f6" stroke-width="0.7" opacity="0.14"/>
<circle cx="246" cy="238" r="4" fill="#7fa8f2" opacity="0.22" filter="url(#blur1)"/>
<circle cx="246" cy="238" r="4" fill="none" stroke="#a8c4f6" stroke-width="0.7" opacity="0.22"/>
<circle cx="408" cy="236" r="5" fill="#7fa8f2" opacity="0.22" filter="url(#blur1)"/>
<circle cx="408" cy="236" r="5" fill="none" stroke="#a8c4f6" stroke-width="0.7" opacity="0.22"/>
<path d="M249,194 C249,191 282,190 324,190.5 C366,191 399,194 399,198 C398,205 352,223 303,224 C268,224.5 249,205 249,194 Z" fill="none" stroke="#4a94f4" stroke-width="4.5" opacity="0.45" filter="url(#blur2)"/>
<path d="M249,194 C249,191 282,190 324,190.5 C366,191 399,194 399,198 C398,205 352,223 303,224 C268,224.5 249,205 249,194 Z" fill="none" stroke="#2a5fd8" stroke-width="1.4" opacity="0.9" filter="url(#blur05)"/>
<path d="M246.5,240 C246.5,235 285,231.5 325,231.5 C365,231.5 404.5,233 404.5,237.5 C404.5,247 360,260 317,259.5 C280,259 246.5,249 246.5,240 Z" fill="none" stroke="#4a94f4" stroke-width="3" opacity="0.4" filter="url(#blur1)"/>
<path d="M246.5,240 C246.5,235 285,231.5 325,231.5 C365,231.5 404.5,233 404.5,237.5 C404.5,247 360,260 317,259.5 C280,259 246.5,249 246.5,240 Z" fill="none" stroke="#2a5fd8" stroke-width="0.9" opacity="0.8" filter="url(#blur05)"/>
<ellipse cx="331.0" cy="233.0" rx="66.0" ry="9.0" transform="rotate(0 331.0 233.0)" fill="none" stroke="#4a94f4" stroke-width="2.6" opacity="0.4" filter="url(#blur1)" />
<ellipse cx="331.0" cy="233.0" rx="66.0" ry="9.0" transform="rotate(0 331.0 233.0)" fill="none" stroke="#2a5fd8" stroke-width="0.8" opacity="0.75" filter="url(#blur05)" />
<circle cx="268" cy="208" r="0.9" fill="#cfe6ff" opacity="0.6"/>
<circle cx="292" cy="238" r="0.9" fill="#cfe6ff" opacity="0.6"/>
<circle cx="305" cy="243" r="0.9" fill="#cfe6ff" opacity="0.6"/>
<circle cx="335" cy="212" r="0.9" fill="#cfe6ff" opacity="0.6"/>
<circle cx="352" cy="236" r="0.9" fill="#cfe6ff" opacity="0.6"/>
<circle cx="366" cy="241" r="0.9" fill="#cfe6ff" opacity="0.6"/>
<circle cx="376" cy="232" r="0.9" fill="#cfe6ff" opacity="0.6"/>
<circle cx="284" cy="252" r="0.9" fill="#cfe6ff" opacity="0.6"/>
<circle cx="343" cy="256" r="0.9" fill="#cfe6ff" opacity="0.6"/>
<circle cx="388" cy="225" r="0.9" fill="#cfe6ff" opacity="0.6"/>
</g>
<g stroke="#787878" stroke-width="2" fill="none"><line x1="330.7" y1="102" x2="330.7" y2="201" stroke-dasharray="13 3.5 2 3.5"/><line x1="493.8" y1="88" x2="493.8" y2="187" stroke-dasharray="13 3.5 2 3.5"/></g>
<polygon points="330.7,94 328,102.5 333.4,102.5" fill="#7f7f7f"/><polygon points="493.8,80 491.1,88.5 496.5,88.5" fill="#7f7f7f"/>
<text x="336" y="105.5" font-family="Liberation Sans, sans-serif" font-size="12.5" font-style="italic">z</text><text x="500.3" y="92.3" font-family="Liberation Sans, sans-serif" font-size="12.5" font-style="italic">z</text>
<g clip-path="url(#topclip)">
<line x1="133.4" y1="3.8" x2="152.4" y2="-6.0" stroke="url(#ga0)" stroke-width="1.2"/>
<polygon points="157.3,-8.5 153.4,-4.2 151.5,-7.8" fill="#e01818"/>
<line x1="133.6" y1="10.6" x2="163.7" y2="9.7" stroke="url(#ga1)" stroke-width="1.2"/>
<polygon points="169.1,9.5 163.7,11.7 163.6,7.7" fill="#e01818"/>
<line x1="133.8" y1="17.4" x2="155.2" y2="26.3" stroke="url(#ga2)" stroke-width="1.2"/>
<polygon points="160.1,28.4 154.4,28.2 155.9,24.5" fill="#e01818"/>
<line x1="134.0" y1="24.2" x2="135.3" y2="35.6" stroke="url(#ga3)" stroke-width="1.2"/>
<polygon points="135.9,40.9 133.3,35.8 137.3,35.3" fill="#e01818"/>
<line x1="134.2" y1="31.0" x2="115.4" y2="41.1" stroke="url(#ga4)" stroke-width="1.2"/>
<polygon points="110.7,43.6 114.5,39.3 116.4,42.8" fill="#e01818"/>
<line x1="134.3" y1="37.7" x2="104.7" y2="38.6" stroke="url(#ga5)" stroke-width="1.2"/>
<polygon points="99.3,38.7 104.6,36.6 104.7,40.6" fill="#e01818"/>
<line x1="134.5" y1="44.3" x2="113.4" y2="35.1" stroke="url(#ga6)" stroke-width="1.2"/>
<polygon points="108.4,32.9 114.2,33.3 112.6,36.9" fill="#e01818"/>
<line x1="134.7" y1="50.9" x2="133.3" y2="39.0" stroke="url(#ga7)" stroke-width="1.2"/>
<polygon points="132.7,33.6 135.3,38.8 131.3,39.2" fill="#e01818"/>
<line x1="134.9" y1="57.5" x2="153.3" y2="47.1" stroke="url(#ga8)" stroke-width="1.2"/>
<polygon points="158.0,44.4 154.3,48.8 152.4,45.3" fill="#e01818"/>
<line x1="135.1" y1="64.0" x2="164.3" y2="63.2" stroke="url(#ga9)" stroke-width="1.2"/>
<polygon points="169.7,63.0 164.4,65.2 164.3,61.2" fill="#e01818"/>
<line x1="135.2" y1="70.5" x2="156.2" y2="80.1" stroke="url(#ga10)" stroke-width="1.2"/>
<polygon points="161.1,82.3 155.4,81.9 157.0,78.3" fill="#e01818"/>
<line x1="135.4" y1="77.0" x2="136.9" y2="89.5" stroke="url(#ga11)" stroke-width="1.2"/>
<polygon points="137.5,94.9 134.9,89.7 138.8,89.3" fill="#e01818"/>
<line x1="135.6" y1="83.4" x2="117.4" y2="94.1" stroke="url(#ga12)" stroke-width="1.2"/>
<polygon points="112.8,96.9 116.4,92.4 118.4,95.9" fill="#e01818"/>
<line x1="135.8" y1="89.8" x2="106.9" y2="90.6" stroke="url(#ga13)" stroke-width="1.2"/>
<polygon points="101.5,90.8 106.9,88.6 107.0,92.6" fill="#e01818"/>
<line x1="135.9" y1="96.1" x2="115.2" y2="86.2" stroke="url(#ga14)" stroke-width="1.2"/>
<polygon points="110.3,83.9 116.0,84.4 114.3,88.0" fill="#e01818"/>
<line x1="136.1" y1="102.4" x2="134.6" y2="89.3" stroke="url(#ga15)" stroke-width="1.2"/>
<polygon points="134.0,83.9 136.6,89.0 132.6,89.5" fill="#e01818"/>
<line x1="136.3" y1="108.6" x2="154.2" y2="97.6" stroke="url(#ga16)" stroke-width="1.2"/>
<polygon points="158.8,94.7 155.2,99.3 153.1,95.9" fill="#e01818"/>
<line x1="136.4" y1="114.8" x2="164.9" y2="114.0" stroke="url(#ga17)" stroke-width="1.2"/>
<polygon points="170.3,113.8 164.9,116.0 164.8,112.0" fill="#e01818"/>
<line x1="136.6" y1="121.0" x2="157.2" y2="131.2" stroke="url(#ga18)" stroke-width="1.2"/>
<polygon points="162.0,133.6 156.3,133.0 158.1,129.4" fill="#e01818"/>
<line x1="136.8" y1="127.1" x2="138.3" y2="140.8" stroke="url(#ga19)" stroke-width="1.2"/>
<polygon points="139.0,146.1 136.4,141.0 140.3,140.5" fill="#e01818"/>
<line x1="136.9" y1="133.2" x2="119.3" y2="144.5" stroke="url(#ga20)" stroke-width="1.2"/>
<polygon points="114.8,147.4 118.3,142.8 120.4,146.2" fill="#e01818"/>
<line x1="137.1" y1="139.2" x2="109.1" y2="140.1" stroke="url(#ga21)" stroke-width="1.2"/>
<polygon points="103.7,140.2 109.0,138.1 109.1,142.1" fill="#e01818"/>
<line x1="137.3" y1="145.2" x2="116.9" y2="134.7" stroke="url(#ga22)" stroke-width="1.2"/>
<polygon points="112.1,132.2 117.8,132.9 116.0,136.5" fill="#e01818"/>
<line x1="137.4" y1="151.2" x2="135.8" y2="137.0" stroke="url(#ga23)" stroke-width="1.2"/>
<polygon points="135.2,131.6 137.8,136.8 133.8,137.2" fill="#e01818"/>
<line x1="137.6" y1="157.1" x2="154.9" y2="145.5" stroke="url(#ga24)" stroke-width="1.2"/>
<polygon points="159.4,142.5 156.0,147.1 153.8,143.8" fill="#e01818"/>
<line x1="137.8" y1="163.0" x2="165.4" y2="162.1" stroke="url(#ga25)" stroke-width="1.2"/>
<polygon points="170.8,162.0 165.4,164.1 165.3,160.1" fill="#e01818"/>
<line x1="137.9" y1="168.8" x2="158.1" y2="179.6" stroke="url(#ga26)" stroke-width="1.2"/>
<polygon points="162.8,182.2 157.1,181.4 159.0,177.9" fill="#e01818"/>
<line x1="138.1" y1="174.6" x2="139.8" y2="189.3" stroke="url(#ga27)" stroke-width="1.2"/>
<polygon points="140.4,194.7 137.8,189.5 141.8,189.1" fill="#e01818"/>
<line x1="138.2" y1="180.3" x2="121.2" y2="192.2" stroke="url(#ga28)" stroke-width="1.2"/>
<polygon points="116.7,195.3 120.0,190.6 122.3,193.9" fill="#e01818"/>
<line x1="138.4" y1="186.1" x2="111.2" y2="186.9" stroke="url(#ga29)" stroke-width="1.2"/>
<polygon points="105.8,187.0 111.1,184.9 111.2,188.9" fill="#e01818"/>
<polyline points="144.5,-15.3 146.4,-14.5 148.2,-13.7 150.0,-12.8 151.7,-11.9 153.4,-11.0 155.1,-10.0 156.6,-8.9 158.1,-7.9 159.5,-6.7 160.8,-5.6 162.0,-4.4 163.2,-3.2 164.2,-1.9 165.2,-0.6 166.1,0.7 166.8,2.0 167.5,3.3 168.0,4.7 168.4,6.1 168.8,7.4 169.0,8.8 169.1,10.2 169.1,11.6 169.0,13.0 168.8,14.4 168.5,15.8 168.0,17.2 167.5,18.6 166.8,20.0 166.1,21.3 165.2,22.6 164.3,23.9 163.3,25.2 162.1,26.5 160.9,27.7 159.6,28.9 158.2,30.0 156.8,31.1 155.2,32.2 153.6,33.3 152.0,34.3 150.3,35.2 148.5,36.1 146.7,37.0 144.9,37.8 143.0,38.6 141.1,39.3 139.1,39.9 137.2,40.5 135.2,41.1 133.3,41.6 131.3,42.1 129.4,42.5 127.5,42.8 125.6,43.1 123.7,43.4 121.8,43.6 120.0,43.7 118.3,43.8 116.6,43.8 114.9,43.9 113.3,43.8 111.8,43.7 110.3,43.6 108.9,43.4 107.6,43.2 106.4,43.0 105.2,42.7 104.2,42.4 103.2,42.1 102.4,41.7 101.6,41.3 101.0,40.9 100.4,40.5 100.0,40.0 99.6,39.6 99.4,39.1 99.3,38.6 99.2,38.2 99.3,37.7 99.5,37.2 99.9,36.7 100.3,36.3 100.8,35.8 101.4,35.4 102.2,35.0 103.0,34.6 103.9,34.2 104.9,33.8 106.0,33.5 107.2,33.2 108.5,32.9 109.9,32.7 111.3,32.5 112.8,32.3 114.4,32.2 116.1,32.1 117.8,32.1 119.5,32.1 121.3,32.2 123.2,32.3 125.0,32.5 126.9,32.7 128.8,32.9 130.8,33.3 132.7,33.6 134.7,34.1 136.7,34.5 138.6,35.1 140.5,35.7 142.5,36.3 144.4,37.0 146.2,37.7 148.0,38.5 149.8,39.4 151.6,40.3 153.3,41.2 154.9,42.2 156.4,43.3 157.9,44.4 159.4,45.5 160.7,46.6 162.0,47.8 163.2,49.1 164.3,50.3 165.3,51.6 166.2,53.0 167.0,54.3 167.7,55.7 168.3,57.1 168.8,58.5 169.2,59.9 169.5,61.3 169.7,62.8 169.8,64.2 169.7,65.7 169.6,67.1 169.4,68.6 169.0,70.0 168.6,71.4 168.0,72.8 167.3,74.2 166.6,75.6 165.7,76.9 164.8,78.3 163.7,79.6 162.6,80.8 161.4,82.1 160.1,83.3 158.7,84.4 157.3,85.5 155.8,86.6 154.2,87.7 152.6,88.6 150.9,89.6 149.1,90.5 147.4,91.3 145.5,92.1 143.7,92.8 141.8,93.5 139.9,94.1 138.0,94.7 136.1,95.2 134.2,95.7 132.3,96.1 130.4,96.4 128.5,96.7 126.7,97.0 124.9,97.1 123.1,97.3 121.3,97.3 119.6,97.4 117.9,97.3 116.3,97.3 114.8,97.1 113.3,97.0 111.9,96.7 110.6,96.5 109.3,96.2 108.1,95.9 107.0,95.5 106.0,95.1 105.1,94.7 104.3,94.2 103.6,93.7 103.0,93.2 102.5,92.7 102.1,92.2 101.8,91.6 101.6,91.1 101.5,90.5 101.5,89.9 101.6,89.4 101.8,88.8 102.2,88.2 102.6,87.7 103.1,87.2 103.8,86.6 104.5,86.1 105.4,85.7 106.3,85.2 107.3,84.8 108.4,84.4 109.6,84.0 110.9,83.7 112.3,83.4 113.7,83.2 115.2,83.0 116.7,82.8 118.4,82.7 120.0,82.7 121.8,82.6 123.5,82.7 125.3,82.8 127.2,82.9 129.0,83.1 130.9,83.4 132.8,83.7 134.7,84.1 136.6,84.5 138.5,85.0 140.4,85.5 142.3,86.1 144.2,86.8 146.0,87.5 147.8,88.3 149.6,89.1 151.3,90.0 153.0,90.9 154.7,91.9 156.2,92.9 157.7,94.0 159.2,95.1 160.6,96.2 161.9,97.4 163.1,98.7 164.2,100.0 165.2,101.3 166.2,102.6 167.1,104.0 167.8,105.4 168.5,106.8 169.1,108.2 169.5,109.7 169.9,111.2 170.1,112.6 170.3,114.1 170.4,115.6 170.3,117.1 170.1,118.6 169.9,120.1 169.5,121.5 169.0,123.0 168.5,124.4 167.8,125.8 167.0,127.2 166.2,128.6 165.2,130.0 164.2,131.3 163.0,132.5 161.8,133.8 160.5,135.0 159.2,136.2 157.7,137.3 156.2,138.3 154.7,139.4 153.1,140.3 151.4,141.3 149.7,142.1 148.0,142.9 146.2,143.7 144.4,144.4 142.6,145.0 140.7,145.6 138.8,146.2 137.0,146.6 135.1,147.0 133.3,147.4 131.4,147.7 129.6,147.9 127.8,148.1 126.0,148.2 124.3,148.2 122.5,148.2 120.9,148.2 119.3,148.1 117.7,147.9 116.2,147.7 114.8,147.5 113.5,147.2 112.2,146.8 111.0,146.4 109.8,146.0 108.8,145.5 107.9,145.1 107.0,144.5 106.2,144.0 105.6,143.4 105.0,142.8 104.5,142.2 104.1,141.6 103.9,140.9 103.7,140.3 103.6,139.6 103.7,139.0 103.8,138.3 104.1,137.7 104.4,137.1 104.9,136.4 105.4,135.8 106.1,135.2 106.8,134.7 107.7,134.1 108.6,133.6 109.6,133.1 110.7,132.7 111.9,132.3 113.2,131.9 114.5,131.6 115.9,131.3 117.4,131.0 119.0,130.8 120.6,130.7 122.2,130.6 123.9,130.6 125.6,130.6 127.4,130.7 129.2,130.8 131.0,131.0 132.9,131.2 134.7,131.5 136.6,131.9 138.5,132.3 140.3,132.8 142.2,133.4 144.0,134.0 145.8,134.7 147.6,135.4 149.4,136.2 151.1,137.1 152.8,138.0 154.4,138.9 156.0,139.9 157.5,141.0 158.9,142.1 160.3,143.2 161.7,144.5 162.9,145.7 164.1,147.0 165.1,148.3 166.1,149.7 167.0,151.0 167.9,152.4 168.6,153.9 169.2,155.3 169.7,156.8 170.2,158.3 170.5,159.8 170.7,161.3 170.8,162.9 170.8,164.4 170.8,165.9 170.6,167.4 170.3,168.9 169.9,170.4 169.4,171.9 168.8,173.4 168.1,174.8 167.4,176.2 166.5,177.6 165.5,179.0 164.5,180.3 163.4,181.6 162.2,182.8 160.9,184.0 159.6,185.2 158.1,186.3 156.7,187.4 155.1,188.4 153.6,189.3 151.9,190.2 150.2,191.1 148.5,191.8 146.8,192.6 145.0,193.2 143.2,193.8 141.4,194.4 139.6,194.9 137.8,195.3 136.0,195.6 134.1,195.9 132.3,196.1 130.6,196.3 128.8,196.4 127.1,196.5 125.4,196.4 123.7,196.4 122.1,196.2 120.6,196.1 119.1,195.8 117.6,195.5 116.3,195.2 115.0,194.8 113.7,194.4 112.6,193.9 111.5,193.4 110.5,192.9 109.6,192.3 108.8,191.7 108.1,191.0 107.4,190.4 106.9,189.7 106.5,189.0 106.1,188.3 105.9,187.6 105.8,186.8 105.7,186.1 105.8,185.4 106.0,184.7 106.2,183.9 106.6,183.2 107.1,182.5" fill="none" stroke="#d41216" stroke-width="1.8" stroke-linejoin="round" stroke-linecap="round"/>
<line x1="128.2" y1="-207.9" x2="137.9" y2="192.0" stroke="#0c0cc4" stroke-width="1.8"/>
<polygon points="138.6,201.5 135.2,190 141.2,190" fill="#1414d8"/>
<line x1="230.6" y1="27.4" x2="252.3" y2="8.3" stroke="url(#gb0)" stroke-width="1.2"/>
<polygon points="256.4,4.7 253.7,9.8 251.0,6.8" fill="#e01818"/>
<line x1="234.0" y1="33.3" x2="260.8" y2="22.6" stroke="url(#gb1)" stroke-width="1.2"/>
<polygon points="265.9,20.6 261.6,24.5 260.1,20.8" fill="#e01818"/>
<line x1="237.4" y1="39.1" x2="251.4" y2="42.7" stroke="url(#gb2)" stroke-width="1.2"/>
<polygon points="256.6,44.1 250.9,44.7 251.9,40.8" fill="#e01818"/>
<line x1="240.8" y1="45.0" x2="237.4" y2="59.4" stroke="url(#gb3)" stroke-width="1.2"/>
<polygon points="236.2,64.6 235.5,58.9 239.4,59.8" fill="#e01818"/>
<line x1="244.2" y1="50.8" x2="222.6" y2="70.0" stroke="url(#gb4)" stroke-width="1.2"/>
<polygon points="218.6,73.6 221.3,68.5 224.0,71.5" fill="#e01818"/>
<line x1="247.5" y1="56.6" x2="221.1" y2="67.0" stroke="url(#gb5)" stroke-width="1.2"/>
<polygon points="216.1,69.0 220.4,65.2 221.9,68.9" fill="#e01818"/>
<line x1="250.9" y1="62.4" x2="237.2" y2="58.5" stroke="url(#gb6)" stroke-width="1.2"/>
<polygon points="232.0,57.1 237.8,56.6 236.7,60.5" fill="#e01818"/>
<line x1="254.2" y1="68.1" x2="257.6" y2="53.4" stroke="url(#gb7)" stroke-width="1.2"/>
<polygon points="258.8,48.2 259.6,53.9 255.7,53.0" fill="#e01818"/>
<line x1="257.5" y1="73.8" x2="278.8" y2="54.6" stroke="url(#gb8)" stroke-width="1.2"/>
<polygon points="282.8,51.0 280.1,56.1 277.4,53.1" fill="#e01818"/>
<line x1="260.8" y1="79.5" x2="286.7" y2="69.3" stroke="url(#gb9)" stroke-width="1.2"/>
<polygon points="291.7,67.3 287.5,71.1 286.0,67.4" fill="#e01818"/>
<line x1="264.1" y1="85.2" x2="277.4" y2="89.3" stroke="url(#gb10)" stroke-width="1.2"/>
<polygon points="282.6,90.8 276.8,91.2 278.0,87.4" fill="#e01818"/>
<line x1="267.4" y1="90.9" x2="263.9" y2="105.9" stroke="url(#gb11)" stroke-width="1.2"/>
<polygon points="262.7,111.1 262.0,105.4 265.8,106.3" fill="#e01818"/>
<line x1="270.7" y1="96.5" x2="249.7" y2="115.8" stroke="url(#gb12)" stroke-width="1.2"/>
<polygon points="245.7,119.4 248.3,114.3 251.0,117.3" fill="#e01818"/>
<line x1="273.9" y1="102.1" x2="248.5" y2="112.2" stroke="url(#gb13)" stroke-width="1.2"/>
<polygon points="243.4,114.2 247.7,110.4 249.2,114.1" fill="#e01818"/>
<line x1="277.2" y1="107.7" x2="264.2" y2="103.5" stroke="url(#gb14)" stroke-width="1.2"/>
<polygon points="259.1,101.8 264.8,101.6 263.6,105.4" fill="#e01818"/>
<line x1="280.4" y1="113.3" x2="283.9" y2="98.0" stroke="url(#gb15)" stroke-width="1.2"/>
<polygon points="285.2,92.8 285.9,98.5 282.0,97.6" fill="#e01818"/>
<line x1="283.6" y1="118.8" x2="304.3" y2="99.5" stroke="url(#gb16)" stroke-width="1.2"/>
<polygon points="308.3,95.9 305.7,101.0 303.0,98.1" fill="#e01818"/>
<line x1="286.8" y1="124.4" x2="311.8" y2="114.5" stroke="url(#gb17)" stroke-width="1.2"/>
<polygon points="316.8,112.5 312.5,116.3 311.1,112.6" fill="#e01818"/>
<line x1="290.0" y1="129.9" x2="302.6" y2="134.3" stroke="url(#gb18)" stroke-width="1.2"/>
<polygon points="307.7,136.1 302.0,136.2 303.3,132.4" fill="#e01818"/>
<line x1="293.2" y1="135.3" x2="289.6" y2="150.8" stroke="url(#gb19)" stroke-width="1.2"/>
<polygon points="288.3,156.1 287.6,150.4 291.5,151.3" fill="#e01818"/>
<line x1="296.3" y1="140.8" x2="275.9" y2="160.1" stroke="url(#gb20)" stroke-width="1.2"/>
<polygon points="271.9,163.8 274.5,158.7 277.2,161.6" fill="#e01818"/>
<line x1="299.5" y1="146.2" x2="275.0" y2="156.0" stroke="url(#gb21)" stroke-width="1.2"/>
<polygon points="269.9,158.0 274.2,154.1 275.7,157.8" fill="#e01818"/>
<line x1="302.6" y1="151.7" x2="290.3" y2="147.0" stroke="url(#gb22)" stroke-width="1.2"/>
<polygon points="285.3,145.1 291.0,145.1 289.6,148.9" fill="#e01818"/>
<line x1="305.8" y1="157.0" x2="309.4" y2="141.3" stroke="url(#gb23)" stroke-width="1.2"/>
<polygon points="310.7,136.1 311.4,141.8 307.5,140.9" fill="#e01818"/>
<line x1="308.9" y1="162.4" x2="329.1" y2="143.1" stroke="url(#gb24)" stroke-width="1.2"/>
<polygon points="333.0,139.3 330.5,144.5 327.7,141.6" fill="#e01818"/>
<line x1="312.0" y1="167.8" x2="336.0" y2="158.2" stroke="url(#gb25)" stroke-width="1.2"/>
<polygon points="341.0,156.2 336.8,160.1 335.3,156.4" fill="#e01818"/>
<line x1="315.0" y1="173.1" x2="327.0" y2="177.9" stroke="url(#gb26)" stroke-width="1.2"/>
<polygon points="332.0,179.9 326.3,179.8 327.8,176.0" fill="#e01818"/>
<line x1="318.1" y1="178.4" x2="314.4" y2="194.3" stroke="url(#gb27)" stroke-width="1.2"/>
<polygon points="313.2,199.6 312.5,193.9 316.3,194.8" fill="#e01818"/>
<line x1="321.2" y1="183.7" x2="301.2" y2="203.0" stroke="url(#gb28)" stroke-width="1.2"/>
<polygon points="297.4,206.7 299.8,201.5 302.6,204.4" fill="#e01818"/>
<line x1="324.2" y1="188.9" x2="300.6" y2="198.3" stroke="url(#gb29)" stroke-width="1.2"/>
<polygon points="295.6,200.3 299.9,196.4 301.4,200.1" fill="#e01818"/>
<polyline points="244.6,1.6 246.4,1.8 248.1,2.1 249.8,2.4 251.4,2.8 252.9,3.3 254.4,3.8 255.8,4.4 257.1,5.1 258.4,5.9 259.5,6.7 260.6,7.6 261.5,8.5 262.4,9.6 263.2,10.7 263.9,11.8 264.4,13.0 264.9,14.3 265.3,15.6 265.6,17.0 265.8,18.4 265.8,19.9 265.8,21.4 265.7,22.9 265.5,24.5 265.2,26.1 264.8,27.7 264.3,29.4 263.7,31.1 263.0,32.8 262.3,34.5 261.4,36.2 260.5,37.9 259.5,39.6 258.5,41.3 257.3,43.0 256.1,44.7 254.9,46.4 253.6,48.1 252.2,49.7 250.8,51.3 249.4,52.9 248.0,54.4 246.5,55.9 245.0,57.3 243.4,58.7 241.9,60.1 240.3,61.4 238.8,62.6 237.3,63.8 235.7,65.0 234.2,66.0 232.7,67.0 231.3,68.0 229.8,68.8 228.5,69.6 227.1,70.4 225.8,71.0 224.6,71.6 223.4,72.1 222.2,72.6 221.2,72.9 220.2,73.2 219.3,73.5 218.4,73.6 217.7,73.7 217.0,73.7 216.4,73.6 215.9,73.5 215.5,73.3 215.2,73.0 215.0,72.7 214.9,72.3 214.8,71.9 214.9,71.4 215.1,70.9 215.4,70.3 215.7,69.6 216.2,68.9 216.8,68.2 217.4,67.5 218.2,66.7 219.0,65.9 220.0,65.0 221.0,64.2 222.1,63.3 223.3,62.4 224.6,61.5 226.0,60.6 227.4,59.7 228.9,58.8 230.5,57.9 232.1,57.0 233.8,56.2 235.5,55.3 237.3,54.5 239.2,53.7 241.0,53.0 242.9,52.3 244.9,51.6 246.8,50.9 248.8,50.3 250.8,49.8 252.8,49.3 254.8,48.9 256.8,48.5 258.8,48.2 260.7,47.9 262.7,47.7 264.6,47.6 266.5,47.5 268.3,47.5 270.2,47.6 271.9,47.8 273.6,48.0 275.3,48.3 276.9,48.7 278.4,49.1 279.9,49.6 281.3,50.2 282.6,50.9 283.9,51.6 285.0,52.4 286.1,53.3 287.1,54.2 288.0,55.3 288.8,56.3 289.5,57.5 290.1,58.7 290.6,59.9 291.0,61.2 291.4,62.6 291.6,64.0 291.7,65.5 291.8,67.0 291.7,68.5 291.5,70.1 291.3,71.7 290.9,73.3 290.5,75.0 290.0,76.7 289.4,78.3 288.7,80.1 287.9,81.8 287.0,83.5 286.1,85.2 285.1,86.9 284.0,88.6 282.9,90.3 281.7,92.0 280.5,93.7 279.2,95.3 277.9,96.9 276.5,98.5 275.1,100.0 273.7,101.5 272.2,103.0 270.7,104.4 269.2,105.8 267.7,107.1 266.2,108.4 264.7,109.6 263.2,110.7 261.8,111.8 260.3,112.8 258.9,113.7 257.5,114.6 256.1,115.4 254.8,116.2 253.5,116.8 252.2,117.4 251.0,117.9 249.9,118.4 248.8,118.7 247.8,119.0 246.9,119.3 246.1,119.4 245.3,119.5 244.6,119.5 244.0,119.4 243.4,119.3 243.0,119.1 242.6,118.8 242.4,118.5 242.2,118.1 242.1,117.6 242.1,117.1 242.3,116.6 242.5,116.0 242.8,115.3 243.2,114.6 243.7,113.9 244.3,113.1 245.0,112.3 245.7,111.5 246.6,110.6 247.6,109.7 248.6,108.8 249.7,107.9 250.9,107.0 252.2,106.0 253.6,105.1 255.0,104.2 256.5,103.3 258.0,102.4 259.7,101.5 261.3,100.6 263.0,99.7 264.8,98.9 266.6,98.1 268.4,97.4 270.3,96.7 272.2,96.0 274.1,95.4 276.0,94.8 278.0,94.3 279.9,93.8 281.8,93.4 283.8,93.0 285.7,92.7 287.6,92.5 289.5,92.3 291.3,92.2 293.2,92.2 294.9,92.3 296.7,92.4 298.4,92.6 300.0,92.8 301.6,93.2 303.1,93.6 304.6,94.1 306.0,94.6 307.3,95.3 308.5,96.0 309.7,96.8 310.8,97.6 311.8,98.5 312.7,99.5 313.5,100.6 314.3,101.7 314.9,102.9 315.5,104.1 315.9,105.4 316.3,106.8 316.6,108.2 316.7,109.6 316.8,111.1 316.8,112.6 316.7,114.2 316.5,115.8 316.2,117.4 315.8,119.1 315.4,120.8 314.8,122.4 314.2,124.2 313.5,125.9 312.7,127.6 311.8,129.3 310.9,131.0 309.9,132.8 308.8,134.5 307.7,136.1 306.5,137.8 305.3,139.5 304.0,141.1 302.7,142.7 301.4,144.2 300.0,145.7 298.6,147.2 297.1,148.6 295.7,150.0 294.2,151.3 292.8,152.6 291.3,153.8 289.9,154.9 288.4,156.0 287.0,157.0 285.6,158.0 284.2,158.9 282.9,159.7 281.5,160.5 280.3,161.1 279.0,161.7 277.9,162.3 276.7,162.7 275.7,163.1 274.7,163.4 273.7,163.6 272.8,163.8 272.0,163.8 271.3,163.8 270.7,163.8 270.1,163.6 269.6,163.4 269.3,163.2 269.0,162.8 268.7,162.4 268.6,162.0 268.6,161.5 268.6,160.9 268.8,160.3 269.0,159.6 269.4,158.9 269.8,158.1 270.4,157.3 271.0,156.5 271.7,155.7 272.5,154.8 273.4,153.9 274.3,153.0 275.4,152.0 276.5,151.1 277.7,150.1 279.0,149.2 280.3,148.2 281.7,147.3 283.2,146.3 284.8,145.4 286.3,144.5 288.0,143.6 289.7,142.8 291.4,141.9 293.2,141.2 295.0,140.4 296.8,139.7 298.6,139.0 300.5,138.4 302.4,137.9 304.3,137.3 306.1,136.9 308.0,136.5 309.9,136.2 311.7,135.9 313.6,135.7 315.4,135.6 317.2,135.5 318.9,135.5 320.6,135.6 322.3,135.8 323.9,136.0 325.5,136.3 327.0,136.7 328.4,137.2 329.8,137.7 331.1,138.3 332.4,139.0 333.6,139.7 334.7,140.6 335.7,141.5 336.6,142.4 337.5,143.4 338.2,144.5 338.9,145.7 339.5,146.9 340.0,148.2 340.4,149.5 340.7,150.9 340.9,152.3 341.0,153.8 341.1,155.3 341.0,156.9 340.9,158.5 340.6,160.1 340.3,161.7 339.9,163.4 339.4,165.1 338.8,166.8 338.2,168.5 337.5,170.2 336.7,172.0 335.8,173.7 334.8,175.4 333.8,177.1 332.8,178.8 331.7,180.5 330.5,182.1 329.3,183.7 328.0,185.3 326.7,186.9 325.4,188.4 324.1,189.9 322.7,191.3 321.3,192.7 319.9,194.0 318.5,195.3 317.1,196.5 315.6,197.7 314.2,198.8 312.8,199.8 311.5,200.8 310.1,201.7 308.8,202.5 307.5,203.3 306.2,204.0 305.0,204.6 303.8,205.1 302.7,205.6 301.6,205.9 300.6,206.3 299.7,206.5 298.8,206.6 298.0,206.7 297.2,206.7 296.6,206.7 296.0,206.5 295.5,206.3 295.1,206.1 294.7,205.7 294.5,205.3 294.3,204.9 294.2,204.4 294.2,203.8 294.3,203.2 294.5,202.5 294.8,201.8 295.2,201.0 295.6,200.2 296.2,199.4 296.8,198.5 297.6,197.6 298.4,196.7 299.3,195.7 300.2,194.8 301.3,193.8 302.4,192.8" fill="none" stroke="#d41216" stroke-width="1.8" stroke-linejoin="round" stroke-linecap="round"/>
<line x1="127.1" y1="-152.1" x2="326.8" y2="194.5" stroke="#0c0cc4" stroke-width="1.8"/>
<polygon points="330.7,201.3 322.8,190.8 330.9,188.2" fill="#0a0af0"/>
<line x1="387.5" y1="16.7" x2="390.6" y2="13.5" stroke="url(#gc0)" stroke-width="1.2"/>
<polygon points="393.1,10.9 392.0,14.9 389.1,12.1" fill="#e01818"/>
<line x1="391.1" y1="22.4" x2="412.4" y2="10.8" stroke="url(#gc1)" stroke-width="1.2"/>
<polygon points="417.1,8.3 413.3,12.6 411.4,9.1" fill="#e01818"/>
<line x1="394.6" y1="28.0" x2="420.9" y2="16.1" stroke="url(#gc2)" stroke-width="1.2"/>
<polygon points="425.8,13.9 421.7,18.0 420.1,14.3" fill="#e01818"/>
<line x1="398.2" y1="33.6" x2="411.1" y2="29.4" stroke="url(#gc3)" stroke-width="1.2"/>
<polygon points="416.3,27.8 411.8,31.3 410.5,27.5" fill="#e01818"/>
<line x1="401.7" y1="39.2" x2="398.7" y2="42.4" stroke="url(#gc4)" stroke-width="1.2"/>
<polygon points="396.2,45.0 397.2,41.0 400.1,43.8" fill="#e01818"/>
<line x1="405.2" y1="44.8" x2="384.3" y2="56.2" stroke="url(#gc5)" stroke-width="1.2"/>
<polygon points="379.5,58.7 383.3,54.4 385.2,57.9" fill="#e01818"/>
<line x1="408.7" y1="50.3" x2="382.8" y2="62.0" stroke="url(#gc6)" stroke-width="1.2"/>
<polygon points="377.9,64.3 382.0,60.2 383.7,63.9" fill="#e01818"/>
<line x1="412.1" y1="55.8" x2="399.4" y2="60.0" stroke="url(#gc7)" stroke-width="1.2"/>
<polygon points="394.3,61.6 398.8,58.1 400.0,61.9" fill="#e01818"/>
<line x1="415.6" y1="61.3" x2="418.5" y2="58.2" stroke="url(#gc8)" stroke-width="1.2"/>
<polygon points="421.0,55.7 420.0,59.6 417.1,56.8" fill="#e01818"/>
<line x1="419.0" y1="66.8" x2="439.6" y2="55.6" stroke="url(#gc9)" stroke-width="1.2"/>
<polygon points="444.3,53.1 440.5,57.4 438.6,53.9" fill="#e01818"/>
<line x1="422.4" y1="72.2" x2="447.8" y2="60.7" stroke="url(#gc10)" stroke-width="1.2"/>
<polygon points="452.7,58.5 448.7,62.6 447.0,58.9" fill="#e01818"/>
<line x1="425.8" y1="77.6" x2="438.3" y2="73.6" stroke="url(#gc11)" stroke-width="1.2"/>
<polygon points="443.4,71.9 438.9,75.5 437.7,71.7" fill="#e01818"/>
<line x1="429.2" y1="83.0" x2="426.3" y2="86.1" stroke="url(#gc12)" stroke-width="1.2"/>
<polygon points="423.9,88.6 424.8,84.7 427.7,87.5" fill="#e01818"/>
<line x1="432.6" y1="88.4" x2="412.4" y2="99.3" stroke="url(#gc13)" stroke-width="1.2"/>
<polygon points="407.6,101.9 411.4,97.6 413.3,101.1" fill="#e01818"/>
<line x1="435.9" y1="93.7" x2="411.0" y2="105.0" stroke="url(#gc14)" stroke-width="1.2"/>
<polygon points="406.0,107.3 410.1,103.2 411.8,106.8" fill="#e01818"/>
<line x1="439.3" y1="99.0" x2="427.0" y2="103.0" stroke="url(#gc15)" stroke-width="1.2"/>
<polygon points="421.9,104.7 426.4,101.1 427.7,104.9" fill="#e01818"/>
<line x1="442.6" y1="104.3" x2="445.5" y2="101.3" stroke="url(#gc16)" stroke-width="1.2"/>
<polygon points="447.8,98.8 446.9,102.7 444.0,99.9" fill="#e01818"/>
<line x1="445.9" y1="109.6" x2="465.7" y2="98.8" stroke="url(#gc17)" stroke-width="1.2"/>
<polygon points="470.5,96.2 466.7,100.5 464.8,97.0" fill="#e01818"/>
<line x1="449.2" y1="114.8" x2="473.7" y2="103.7" stroke="url(#gc18)" stroke-width="1.2"/>
<polygon points="478.6,101.4 474.5,105.5 472.9,101.9" fill="#e01818"/>
<line x1="452.4" y1="120.0" x2="464.4" y2="116.1" stroke="url(#gc19)" stroke-width="1.2"/>
<polygon points="469.5,114.4 465.0,118.0 463.8,114.2" fill="#e01818"/>
<line x1="455.7" y1="125.2" x2="452.9" y2="128.2" stroke="url(#gc20)" stroke-width="1.2"/>
<polygon points="450.5,130.6 451.4,126.8 454.3,129.5" fill="#e01818"/>
<line x1="458.9" y1="130.3" x2="439.4" y2="140.9" stroke="url(#gc21)" stroke-width="1.2"/>
<polygon points="434.7,143.5 438.5,139.1 440.4,142.7" fill="#e01818"/>
<line x1="462.1" y1="135.4" x2="438.0" y2="146.4" stroke="url(#gc22)" stroke-width="1.2"/>
<polygon points="433.1,148.6 437.2,144.5 438.9,148.2" fill="#e01818"/>
<line x1="465.4" y1="140.5" x2="453.6" y2="144.3" stroke="url(#gc23)" stroke-width="1.2"/>
<polygon points="448.5,146.0 453.0,142.4 454.3,146.3" fill="#e01818"/>
<line x1="468.5" y1="145.6" x2="471.3" y2="142.7" stroke="url(#gc24)" stroke-width="1.2"/>
<polygon points="473.6,140.3 472.8,144.1 469.9,141.3" fill="#e01818"/>
<line x1="471.7" y1="150.7" x2="490.8" y2="140.3" stroke="url(#gc25)" stroke-width="1.2"/>
<polygon points="495.6,137.7 491.8,142.1 489.9,138.5" fill="#e01818"/>
<line x1="474.9" y1="155.7" x2="498.5" y2="145.0" stroke="url(#gc26)" stroke-width="1.2"/>
<polygon points="503.5,142.7 499.4,146.8 497.7,143.2" fill="#e01818"/>
<line x1="478.0" y1="160.7" x2="489.5" y2="157.0" stroke="url(#gc27)" stroke-width="1.2"/>
<polygon points="494.6,155.3 490.1,158.9 488.8,155.1" fill="#e01818"/>
<line x1="481.1" y1="165.7" x2="478.4" y2="168.6" stroke="url(#gc28)" stroke-width="1.2"/>
<polygon points="476.1,170.9 476.9,167.2 479.8,169.9" fill="#e01818"/>
<line x1="484.2" y1="170.6" x2="465.5" y2="180.8" stroke="url(#gc29)" stroke-width="1.2"/>
<polygon points="460.7,183.4 464.5,179.0 466.4,182.5" fill="#e01818"/>
<line x1="487.3" y1="175.5" x2="464.1" y2="186.1" stroke="url(#gc30)" stroke-width="1.2"/>
<polygon points="459.2,188.3 463.3,184.2 464.9,187.9" fill="#e01818"/>
<polyline points="392.0,11.1 394.0,10.7 396.0,10.3 398.0,10.0 399.9,9.7 401.8,9.4 403.6,9.1 405.4,8.9 407.2,8.7 408.9,8.5 410.5,8.4 412.1,8.3 413.6,8.2 415.0,8.2 416.4,8.2 417.6,8.3 418.8,8.4 419.9,8.6 420.9,8.8 421.9,9.0 422.7,9.3 423.4,9.7 424.1,10.1 424.6,10.5 425.1,11.0 425.4,11.5 425.7,12.1 425.8,12.7 425.9,13.4 425.8,14.1 425.7,14.9 425.4,15.7 425.1,16.5 424.7,17.4 424.2,18.3 423.6,19.3 422.9,20.3 422.1,21.3 421.3,22.4 420.4,23.4 419.4,24.6 418.3,25.7 417.2,26.8 416.0,28.0 414.8,29.2 413.5,30.4 412.2,31.6 410.8,32.9 409.4,34.1 408.0,35.4 406.5,36.6 405.0,37.8 403.5,39.1 402.0,40.3 400.5,41.5 399.0,42.7 397.5,43.9 396.0,45.1 394.6,46.3 393.1,47.4 391.7,48.6 390.3,49.7 389.0,50.7 387.7,51.8 386.5,52.8 385.3,53.7 384.1,54.7 383.1,55.6 382.1,56.4 381.1,57.2 380.3,58.0 379.5,58.8 378.8,59.5 378.2,60.1 377.6,60.7 377.2,61.3 376.8,61.8 376.6,62.2 376.4,62.6 376.3,63.0 376.3,63.3 376.4,63.6 376.7,63.8 377.0,64.0 377.4,64.2 377.9,64.3 378.5,64.3 379.2,64.3 380.0,64.3 380.8,64.2 381.8,64.1 382.9,64.0 384.0,63.8 385.2,63.6 386.5,63.3 387.9,63.0 389.3,62.7 390.9,62.4 392.4,62.1 394.1,61.7 395.8,61.3 397.5,60.9 399.3,60.5 401.1,60.1 403.0,59.6 404.9,59.2 406.8,58.7 408.7,58.3 410.7,57.8 412.7,57.4 414.7,57.0 416.6,56.6 418.6,56.1 420.5,55.8 422.5,55.4 424.4,55.0 426.3,54.7 428.2,54.4 430.0,54.1 431.8,53.8 433.5,53.6 435.2,53.4 436.8,53.3 438.4,53.1 439.9,53.1 441.3,53.0 442.7,53.0 444.0,53.0 445.2,53.1 446.3,53.2 447.3,53.4 448.3,53.6 449.2,53.9 449.9,54.2 450.6,54.5 451.2,54.9 451.7,55.4 452.1,55.8 452.4,56.4 452.6,57.0 452.7,57.6 452.8,58.2 452.7,58.9 452.5,59.7 452.3,60.5 451.9,61.3 451.5,62.2 450.9,63.1 450.3,64.0 449.6,65.0 448.9,66.0 448.0,67.0 447.1,68.1 446.1,69.2 445.1,70.3 444.0,71.4 442.8,72.5 441.6,73.7 440.3,74.9 439.0,76.1 437.7,77.3 436.3,78.5 434.9,79.7 433.5,80.9 432.0,82.1 430.5,83.3 429.1,84.5 427.6,85.6 426.2,86.8 424.7,88.0 423.3,89.1 421.8,90.2 420.5,91.3 419.1,92.4 417.8,93.5 416.5,94.5 415.2,95.5 414.0,96.4 412.9,97.4 411.8,98.3 410.8,99.1 409.8,99.9 408.9,100.7 408.1,101.5 407.4,102.2 406.7,102.8 406.1,103.4 405.6,104.0 405.2,104.5 404.9,105.0 404.7,105.4 404.5,105.8 404.5,106.2 404.5,106.5 404.7,106.7 404.9,106.9 405.2,107.1 405.7,107.2 406.2,107.3 406.8,107.3 407.5,107.3 408.3,107.2 409.2,107.2 410.1,107.0 411.2,106.9 412.3,106.7 413.5,106.5 414.8,106.2 416.2,105.9 417.6,105.6 419.1,105.3 420.6,105.0 422.2,104.6 423.9,104.2 425.6,103.8 427.3,103.4 429.1,103.0 430.9,102.5 432.8,102.1 434.7,101.7 436.5,101.2 438.5,100.8 440.4,100.4 442.3,100.0 444.2,99.5 446.1,99.1 448.0,98.8 449.9,98.4 451.7,98.1 453.6,97.7 455.3,97.4 457.1,97.2 458.8,96.9 460.5,96.7 462.1,96.5 463.7,96.4 465.2,96.3 466.6,96.2 468.0,96.2 469.3,96.2 470.5,96.2 471.6,96.3 472.7,96.4 473.7,96.6 474.6,96.8 475.4,97.1 476.1,97.4 476.8,97.7 477.3,98.1 477.8,98.6 478.1,99.0 478.4,99.6 478.6,100.1 478.6,100.7 478.6,101.4 478.5,102.1 478.3,102.8 478.0,103.6 477.7,104.4 477.2,105.3 476.7,106.2 476.1,107.1 475.4,108.0 474.6,109.0 473.7,110.0 472.8,111.0 471.8,112.1 470.8,113.2 469.7,114.3 468.6,115.4 467.4,116.5 466.1,117.7 464.8,118.8 463.5,120.0 462.2,121.1 460.8,122.3 459.4,123.5 458.0,124.6 456.6,125.8 455.1,126.9 453.7,128.1 452.3,129.2 450.9,130.3 449.5,131.4 448.1,132.5 446.8,133.6 445.4,134.6 444.2,135.6 442.9,136.6 441.7,137.5 440.6,138.5 439.5,139.3 438.4,140.2 437.5,141.0 436.5,141.8 435.7,142.5 434.9,143.2 434.2,143.9 433.6,144.5 433.1,145.1 432.6,145.6 432.2,146.1 432.0,146.6 431.8,147.0 431.7,147.3 431.6,147.6 431.7,147.9 431.9,148.1 432.1,148.3 432.5,148.5 432.9,148.6 433.4,148.6 434.1,148.6 434.8,148.6 435.6,148.6 436.4,148.5 437.4,148.3 438.4,148.2 439.6,148.0 440.7,147.7 442.0,147.5 443.3,147.2 444.7,146.9 446.2,146.5 447.7,146.2 449.3,145.8 450.9,145.4 452.6,145.1 454.3,144.6 456.0,144.2 457.8,143.8 459.6,143.4 461.4,143.0 463.3,142.5 465.1,142.1 467.0,141.7 468.8,141.3 470.7,140.9 472.5,140.5 474.4,140.1 476.2,139.8 478.0,139.5 479.7,139.1 481.5,138.9 483.2,138.6 484.8,138.4 486.4,138.2 487.9,138.0 489.4,137.9 490.9,137.8 492.2,137.7 493.6,137.7 494.8,137.7 496.0,137.7 497.0,137.8 498.0,138.0 499.0,138.1 499.8,138.4 500.6,138.6 501.3,138.9 501.8,139.3 502.3,139.7 502.8,140.1 503.1,140.6 503.3,141.1 503.4,141.7 503.5,142.3 503.4,142.9 503.3,143.6 503.1,144.3 502.8,145.1 502.4,145.9 501.9,146.7 501.4,147.6 500.7,148.5 500.0,149.4 499.3,150.3 498.4,151.3 497.5,152.3 496.5,153.4 495.5,154.4 494.4,155.5 493.3,156.6 492.1,157.6 490.9,158.8 489.6,159.9 488.3,161.0 487.0,162.1 485.7,163.2 484.3,164.4 482.9,165.5 481.6,166.6 480.2,167.7 478.8,168.8 477.4,169.9 476.0,171.0 474.7,172.1 473.4,173.1 472.1,174.1 470.8,175.1 469.6,176.1 468.4,177.0 467.2,177.9 466.1,178.8 465.1,179.6 464.1,180.5 463.1,181.2 462.3,182.0 461.5,182.7 460.7,183.4 460.1,184.0 459.5,184.6 459.0,185.1 458.6,185.6 458.2,186.1 458.0,186.5 457.8,186.9 457.7,187.2 457.8,187.5 457.9,187.7 458.0,187.9 458.3,188.1 458.7,188.2 459.1,188.3 459.7,188.3" fill="none" stroke="#d41216" stroke-width="1.8" stroke-linejoin="round" stroke-linecap="round"/>
<line x1="277.0" y1="-160.5" x2="488.5" y2="179.0" stroke="#0c0cc4" stroke-width="1.8"/>
<polygon points="493.8,187.3 484.2,180.2 491.6,175.6" fill="#0a0af0"/>
</g>
<text x="339" y="183.5" font-family="Liberation Sans, sans-serif" font-size="16" font-style="italic">θ</text>
<text x="463.5" y="170.5" font-family="Liberation Sans, sans-serif" font-size="16" font-style="italic">θ</text>
<path d="M318.5,176.5 Q323.5,173.5 330.5,175" stroke="#7f7f7f" stroke-width="1" fill="none"/>
<path d="M480.5,165.5 Q485,160.5 493.5,160" stroke="#7f7f7f" stroke-width="1" fill="none"/>
<g stroke="#7f7f7f" stroke-width="1.3" fill="none"><line x1="261.5" y1="251" x2="261.5" y2="276"/><line x1="390.3" y1="253" x2="390.3" y2="277"/><line x1="268" y1="261" x2="384" y2="261"/><line x1="392" y1="218.5" x2="411" y2="218.5"/><line x1="390.3" y1="252.5" x2="411" y2="252.5"/><line x1="398.5" y1="226" x2="398.5" y2="245"/></g>
<polygon points="262.5,261 271,257.8 271,264.2" fill="#7f7f7f"/><polygon points="389.5,261 381,257.8 381,264.2" fill="#7f7f7f"/><polygon points="398.5,219.5 395.3,228 401.7,228" fill="#7f7f7f"/><polygon points="398.5,251.5 395.3,243 401.7,243" fill="#7f7f7f"/>
<text x="317.5" y="277" font-family="Liberation Sans, sans-serif" font-size="15" font-style="italic">a</text><text x="403.5" y="241" font-family="Liberation Sans, sans-serif" font-size="16" font-style="italic">t</text>
<text x="14.5" y="30.3" font-family="Liberation Sans, sans-serif" font-size="21.5">(a)</text>
<text x="72.7" y="69.5" font-family="Liberation Sans, sans-serif" font-size="21.3" fill="#1212c0">LCP</text>
<text x="293.5" y="69.5" font-family="Liberation Sans, sans-serif" font-size="21.3" fill="#1212c0">LCP</text>
<text x="460" y="69.5" font-family="Liberation Sans, sans-serif" font-size="21.3" fill="#1212c0">Elliptical</text>
<text x="552" y="94" font-family="Liberation Sans, sans-serif" font-size="21.3">Air</text>
<text x="578" y="343.5" font-family="Liberation Sans, sans-serif" font-size="21.3">H<tspan font-size="14" dy="4.5">2</tspan><tspan dy="-4.5">O</tspan></text>
<text x="455.5" y="366.5" font-family="Liberation Sans, sans-serif" font-size="21.3">Inside H<tspan font-size="14" dy="4.5">2</tspan><tspan dy="-4.5">O</tspan></text>
<g stroke="#000" stroke-width="1.9" fill="none"><polyline points="19.7,290 21.7,321.6 52,321.6"/><line x1="21.7" y1="321.6" x2="25.2" y2="301"/></g>
<polygon points="19.1,280 16.8,290.5 22.4,290" fill="#000"/><polygon points="61.3,321.6 51,318.8 51,324.4" fill="#000"/><polygon points="26.4,293 22.6,301 28,302.2" fill="#000"/>
<text x="5.3" y="286.8" font-family="Liberation Sans, sans-serif" font-size="18.5" font-style="italic">z</text><text x="34" y="301.7" font-family="Liberation Sans, sans-serif" font-size="19.5" font-style="italic">y</text><text x="54.3" y="341.5" font-family="Liberation Sans, sans-serif" font-size="19.5" font-style="italic">x</text>
<path d="M104,310.5 C118,319 160,320 173,309 C180,301 160,298 140,298" fill="none" stroke="#e0201a" stroke-width="1.3"/><polygon points="131.5,298 144,295.6 144,300.2" fill="#e0201a"/><path d="M160,317 C170,314 176,310 174.5,305.5" fill="none" stroke="#e0201a" stroke-width="2.6"/>
<path d="M293,309 C288,296 350,293 362,303 C369,310 356,314 346,315.5" fill="none" stroke="#e0201a" stroke-width="1.3"/><polygon points="336.5,316.6 351,311.8 351.5,316.6" fill="#e0201a"/><path d="M293,309 C291.5,304 297,300.5 304,299" fill="none" stroke="#e0201a" stroke-width="2.4"/>
<path d="M472.5,308 C468,295 530,292 542,302 C549,309 536,313 526,314.5" fill="none" stroke="#e0201a" stroke-width="1.3"/><polygon points="516.5,315.6 531,310.8 531.5,315.6" fill="#e0201a"/><path d="M472.5,308 C471,303 476.5,299.5 483.5,298" fill="none" stroke="#e0201a" stroke-width="2.4"/>
<text x="110.5" y="339.8" font-family="Liberation Serif, serif" font-size="17.8" fill="#2a2a2a"><tspan font-style="italic">M</tspan><tspan dx="2">1</tspan><tspan font-style="italic" font-size="9.5" dy="3.5">z</tspan><tspan dy="-3.5" dx="3"> &gt; 0</tspan></text>
<text x="299.5" y="339.8" font-family="Liberation Serif, serif" font-size="17.8" fill="#2a2a2a"><tspan font-style="italic">M</tspan><tspan dx="2">2</tspan><tspan font-style="italic" font-size="9.5" dy="3.5">z</tspan><tspan dy="-3.5" dx="3"> &lt; 0</tspan></text>
<text x="476.5" y="339.8" font-family="Liberation Serif, serif" font-size="17.8" fill="#2a2a2a"><tspan font-style="italic">M</tspan><tspan dx="2">3</tspan><tspan font-style="italic" font-size="9.5" dy="3.5">z</tspan><tspan dy="-3.5" dx="3"> &lt; 0</tspan></text>
<!-- panel b -->
<text x="648.3" y="30.5" font-family="Liberation Sans, sans-serif" font-size="21.5">(b)</text>
<polygon points="778.3,53.5 720.8,151.6 835.2,151.6" fill="#bdd7ee"/>
<line x1="778" y1="66.9" x2="817" y2="66.9" stroke="#12c012" stroke-width="2.5"/><polygon points="825.5,66.9 815.5,62.60000000000001 815.5,71.2" fill="#12c012"/>
<line x1="778" y1="84" x2="817" y2="84" stroke="#12c012" stroke-width="2.5"/><polygon points="825.5,84 815.5,79.7 815.5,88.3" fill="#12c012"/>
<line x1="778" y1="103.2" x2="817" y2="103.2" stroke="#12c012" stroke-width="2.5"/><polygon points="825.5,103.2 815.5,98.9 815.5,107.5" fill="#12c012"/>
<line x1="778" y1="124.4" x2="817" y2="124.4" stroke="#12c012" stroke-width="2.5"/><polygon points="825.5,124.4 815.5,120.10000000000001 815.5,128.70000000000002" fill="#12c012"/>
<line x1="778" y1="143.4" x2="817" y2="143.4" stroke="#12c012" stroke-width="2.5"/><polygon points="825.5,143.4 815.5,139.1 815.5,147.70000000000002" fill="#12c012"/>
<text x="667" y="85.8" font-family="Liberation Sans, sans-serif" font-size="16.3" fill="#12b050">POT/NOT</text>
<text x="831.5" y="105.2" font-family="Liberation Sans, sans-serif" font-size="16.5" font-weight="bold" fill="#12b050">S<tspan font-size="10.5" dy="-5.5">(</tspan><tspan font-size="10.5" font-style="italic">i</tspan><tspan font-size="10.5">)</tspan></text>
<g stroke="#7f7f7f" stroke-width="1.3" fill="none"><polyline points="717,128 717,155.8 742,155.8"/></g>
<polygon points="717,121 713.8,130 720.2,130" fill="#7f7f7f"/><polygon points="750,155.8 741,152.6 741,159" fill="#7f7f7f"/>
<text x="706" y="127.8" font-family="Liberation Sans, sans-serif" font-size="14" font-style="italic">y</text><text x="738.5" y="171.8" font-family="Liberation Sans, sans-serif" font-size="14" font-style="italic">x</text>
<text x="732.5" y="196.8" font-family="Liberation Sans, sans-serif" font-size="21.4">Anisotropy</text>
<g stroke="#4472c4" stroke-width="3.2"><line x1="764.5" y1="230" x2="787" y2="230"/><line x1="775.7" y1="218.5" x2="775.7" y2="241.5"/></g>
<polygon points="737,251 737,364.6 835,307.9" fill="#bdd7ee"/>
<text x="683" y="294.6" font-family="Liberation Sans, sans-serif" font-size="16.1" fill="#0a0ab4">POT</text>
<text x="759.5" y="385.8" font-family="Liberation Sans, sans-serif" font-size="21">SAM</text>
<path d="M748.9,325 C766.3,325 779.8,320.5 779.8,310.2 C779.8,300.9 770.5,295.6 760.7,293.3" fill="none" stroke="#0a0ae0" stroke-width="7"/>
<polygon points="752.8,291 761.6,285.8 764,300.6" fill="#0a0ae0"/>
<!-- chart c -->
<line x1="245.5" y1="428.5" x2="245.5" y2="690.5" stroke="#c0c0c0" stroke-width="1" stroke-dasharray="7.5 4.5" stroke-dashoffset="3"/>
<polyline points="83.50,559.50 85.31,557.84 87.12,556.19 88.93,554.54 90.74,552.88 92.56,551.23 94.37,549.59 96.18,547.94 97.99,546.30 99.80,544.66 101.61,543.03 103.42,541.40 105.23,539.78 107.04,538.16 108.86,536.56 110.67,534.95 112.48,533.36 114.29,531.77 116.10,530.19 117.91,528.62 119.72,527.06 121.53,525.51 123.34,523.97 125.16,522.44 126.97,520.92 128.78,519.42 130.59,517.92 132.40,516.44 134.21,514.97 136.02,513.52 137.83,512.08 139.64,510.65 141.46,509.24 143.27,507.84 145.08,506.46 146.89,505.10 148.70,503.75 150.51,502.42 152.32,501.11 154.13,499.81 155.94,498.54 157.76,497.28 159.57,496.04 161.38,494.82 163.19,493.62 165.00,492.44 166.81,491.27 168.62,490.14 170.43,489.02 172.24,487.92 174.06,486.85 175.87,485.79 177.68,484.76 179.49,483.75 181.30,482.77 183.11,481.81 184.92,480.87 186.73,479.96 188.54,479.07 190.36,478.20 192.17,477.36 193.98,476.55 195.79,475.76 197.60,474.99 199.41,474.25 201.22,473.54 203.03,472.86 204.84,472.20 206.66,471.56 208.47,470.96 210.28,470.38 212.09,469.82 213.90,469.30 215.71,468.80 217.52,468.33 219.33,467.89 221.14,467.47 222.96,467.09 224.77,466.73 226.58,466.40 228.39,466.10 230.20,465.82 232.01,465.58 233.82,465.36 235.63,465.18 237.44,465.02 239.26,464.89 241.07,464.79 242.88,464.71 244.69,464.67 246.50,464.66 248.31,464.67 250.12,464.71 251.93,464.79 253.74,464.89 255.56,465.02 257.37,465.18 259.18,465.36 260.99,465.58 262.80,465.82 264.61,466.10 266.42,466.40 268.23,466.73 270.04,467.09 271.86,467.47 273.67,467.89 275.48,468.33 277.29,468.80 279.10,469.30 280.91,469.82 282.72,470.38 284.53,470.96 286.34,471.56 288.16,472.20 289.97,472.86 291.78,473.54 293.59,474.25 295.40,474.99 297.21,475.76 299.02,476.55 300.83,477.36 302.64,478.20 304.46,479.07 306.27,479.96 308.08,480.87 309.89,481.81 311.70,482.77 313.51,483.75 315.32,484.76 317.13,485.79 318.94,486.85 320.76,487.92 322.57,489.02 324.38,490.14 326.19,491.27 328.00,492.44 329.81,493.62 331.62,494.82 333.43,496.04 335.24,497.28 337.06,498.54 338.87,499.81 340.68,501.11 342.49,502.42 344.30,503.75 346.11,505.10 347.92,506.46 349.73,507.84 351.54,509.24 353.36,510.65 355.17,512.08 356.98,513.52 358.79,514.97 360.60,516.44 362.41,517.92 364.22,519.42 366.03,520.92 367.84,522.44 369.66,523.97 371.47,525.51 373.28,527.06 375.09,528.62 376.90,530.19 378.71,531.77 380.52,533.36 382.33,534.95 384.14,536.56 385.96,538.16 387.77,539.78 389.58,541.40 391.39,543.03 393.20,544.66 395.01,546.30 396.82,547.94 398.63,549.59 400.44,551.23 402.26,552.88 404.07,554.54 405.88,556.19 407.69,557.84 409.50,559.50" fill="none" stroke="#d42a18" stroke-width="2"/>
<polyline points="83.50,559.50 85.31,561.16 87.12,562.81 88.93,564.46 90.74,566.12 92.56,567.77 94.37,569.41 96.18,571.06 97.99,572.70 99.80,574.34 101.61,575.97 103.42,577.60 105.23,579.22 107.04,580.84 108.86,582.44 110.67,584.05 112.48,585.64 114.29,587.23 116.10,588.81 117.91,590.38 119.72,591.94 121.53,593.49 123.34,595.03 125.16,596.56 126.97,598.08 128.78,599.58 130.59,601.08 132.40,602.56 134.21,604.03 136.02,605.48 137.83,606.92 139.64,608.35 141.46,609.76 143.27,611.16 145.08,612.54 146.89,613.90 148.70,615.25 150.51,616.58 152.32,617.89 154.13,619.19 155.94,620.46 157.76,621.72 159.57,622.96 161.38,624.18 163.19,625.38 165.00,626.56 166.81,627.73 168.62,628.86 170.43,629.98 172.24,631.08 174.06,632.15 175.87,633.21 177.68,634.24 179.49,635.25 181.30,636.23 183.11,637.19 184.92,638.13 186.73,639.04 188.54,639.93 190.36,640.80 192.17,641.64 193.98,642.45 195.79,643.24 197.60,644.01 199.41,644.75 201.22,645.46 203.03,646.14 204.84,646.80 206.66,647.44 208.47,648.04 210.28,648.62 212.09,649.18 213.90,649.70 215.71,650.20 217.52,650.67 219.33,651.11 221.14,651.53 222.96,651.91 224.77,652.27 226.58,652.60 228.39,652.90 230.20,653.18 232.01,653.42 233.82,653.64 235.63,653.82 237.44,653.98 239.26,654.11 241.07,654.21 242.88,654.29 244.69,654.33 246.50,654.34 248.31,654.33 250.12,654.29 251.93,654.21 253.74,654.11 255.56,653.98 257.37,653.82 259.18,653.64 260.99,653.42 262.80,653.18 264.61,652.90 266.42,652.60 268.23,652.27 270.04,651.91 271.86,651.53 273.67,651.11 275.48,650.67 277.29,650.20 279.10,649.70 280.91,649.18 282.72,648.62 284.53,648.04 286.34,647.44 288.16,646.80 289.97,646.14 291.78,645.46 293.59,644.75 295.40,644.01 297.21,643.24 299.02,642.45 300.83,641.64 302.64,640.80 304.46,639.93 306.27,639.04 308.08,638.13 309.89,637.19 311.70,636.23 313.51,635.25 315.32,634.24 317.13,633.21 318.94,632.15 320.76,631.08 322.57,629.98 324.38,628.86 326.19,627.73 328.00,626.56 329.81,625.38 331.62,624.18 333.43,622.96 335.24,621.72 337.06,620.46 338.87,619.19 340.68,617.89 342.49,616.58 344.30,615.25 346.11,613.90 347.92,612.54 349.73,611.16 351.54,609.76 353.36,608.35 355.17,606.92 356.98,605.48 358.79,604.03 360.60,602.56 362.41,601.08 364.22,599.58 366.03,598.08 367.84,596.56 369.66,595.03 371.47,593.49 373.28,591.94 375.09,590.38 376.90,588.81 378.71,587.23 380.52,585.64 382.33,584.05 384.14,582.44 385.96,580.84 387.77,579.22 389.58,577.60 391.39,575.97 393.20,574.34 395.01,572.70 396.82,571.06 398.63,569.41 400.44,567.77 402.26,566.12 404.07,564.46 405.88,562.81 407.69,561.16 409.50,559.50" fill="none" stroke="#1428b4" stroke-width="2"/>
<rect x="83.5" y="428.5" width="326.0" height="262.0" fill="none" stroke="#000" stroke-width="1"/>
<line x1="78.0" y1="664.30" x2="83.5" y2="664.30" stroke="#000" stroke-width="1"/>
<text x="75.0" y="670.10" text-anchor="end" font-family="Liberation Sans, sans-serif" font-size="16.5">-0.4</text>
<line x1="80.3" y1="638.10" x2="83.5" y2="638.10" stroke="#000" stroke-width="1"/>
<line x1="78.0" y1="611.90" x2="83.5" y2="611.90" stroke="#000" stroke-width="1"/>
<text x="75.0" y="617.70" text-anchor="end" font-family="Liberation Sans, sans-serif" font-size="16.5">-0.2</text>
<line x1="80.3" y1="585.70" x2="83.5" y2="585.70" stroke="#000" stroke-width="1"/>
<line x1="78.0" y1="559.50" x2="83.5" y2="559.50" stroke="#000" stroke-width="1"/>
<text x="75.0" y="565.30" text-anchor="end" font-family="Liberation Sans, sans-serif" font-size="16.5">0.0</text>
<line x1="80.3" y1="533.30" x2="83.5" y2="533.30" stroke="#000" stroke-width="1"/>
<line x1="78.0" y1="507.10" x2="83.5" y2="507.10" stroke="#000" stroke-width="1"/>
<text x="75.0" y="512.90" text-anchor="end" font-family="Liberation Sans, sans-serif" font-size="16.5">0.2</text>
<line x1="80.3" y1="480.90" x2="83.5" y2="480.90" stroke="#000" stroke-width="1"/>
<line x1="78.0" y1="454.70" x2="83.5" y2="454.70" stroke="#000" stroke-width="1"/>
<text x="75.0" y="460.50" text-anchor="end" font-family="Liberation Sans, sans-serif" font-size="16.5">0.4</text>
<line x1="83.50" y1="690.5" x2="83.50" y2="696.0" stroke="#000" stroke-width="1"/>
<text x="83.50" y="712.3" text-anchor="middle" font-family="Liberation Sans, sans-serif" font-size="16.5">0</text>
<line x1="137.83" y1="690.5" x2="137.83" y2="696.0" stroke="#000" stroke-width="1"/>
<text x="137.83" y="712.3" text-anchor="middle" font-family="Liberation Sans, sans-serif" font-size="16.5">15</text>
<line x1="192.17" y1="690.5" x2="192.17" y2="696.0" stroke="#000" stroke-width="1"/>
<text x="192.17" y="712.3" text-anchor="middle" font-family="Liberation Sans, sans-serif" font-size="16.5">30</text>
<line x1="246.50" y1="690.5" x2="246.50" y2="696.0" stroke="#000" stroke-width="1"/>
<text x="246.50" y="712.3" text-anchor="middle" font-family="Liberation Sans, sans-serif" font-size="16.5">45</text>
<line x1="300.83" y1="690.5" x2="300.83" y2="696.0" stroke="#000" stroke-width="1"/>
<text x="300.83" y="712.3" text-anchor="middle" font-family="Liberation Sans, sans-serif" font-size="16.5">60</text>
<line x1="355.17" y1="690.5" x2="355.17" y2="696.0" stroke="#000" stroke-width="1"/>
<text x="355.17" y="712.3" text-anchor="middle" font-family="Liberation Sans, sans-serif" font-size="16.5">75</text>
<line x1="409.50" y1="690.5" x2="409.50" y2="696.0" stroke="#000" stroke-width="1"/>
<text x="409.50" y="712.3" text-anchor="middle" font-family="Liberation Sans, sans-serif" font-size="16.5">90</text>
<line x1="110.67" y1="690.5" x2="110.67" y2="693.7" stroke="#000" stroke-width="1"/>
<line x1="165.00" y1="690.5" x2="165.00" y2="693.7" stroke="#000" stroke-width="1"/>
<line x1="219.33" y1="690.5" x2="219.33" y2="693.7" stroke="#000" stroke-width="1"/>
<line x1="273.67" y1="690.5" x2="273.67" y2="693.7" stroke="#000" stroke-width="1"/>
<line x1="328.00" y1="690.5" x2="328.00" y2="693.7" stroke="#000" stroke-width="1"/>
<line x1="382.33" y1="690.5" x2="382.33" y2="693.7" stroke="#000" stroke-width="1"/>
<circle cx="246.5" cy="464.7" r="3.4" fill="none" stroke="#d42a18" stroke-width="1.2"/>
<circle cx="246.5" cy="654.3" r="3.4" fill="none" stroke="#1428b4" stroke-width="1.2"/>
<text x="252" y="459.5" font-family="Liberation Sans, sans-serif" font-size="15.7" fill="#d42a18">LCP</text>
<text x="252" y="672" font-family="Liberation Sans, sans-serif" font-size="15.7" fill="#1428b4">RCP</text>
<line x1="129" y1="545" x2="165" y2="545" stroke="#d42a18" stroke-width="2"/>
<line x1="129" y1="567" x2="165" y2="567" stroke="#1428b4" stroke-width="2"/>
<text x="169" y="550.5" font-family="Liberation Sans, sans-serif" font-size="16.6"><tspan font-family="Liberation Serif, serif" font-size="17.5">χ</tspan>=1/2<tspan font-family="Liberation Serif, serif" font-size="17.5">π</tspan></text>
<text x="169" y="572.5" font-family="Liberation Sans, sans-serif" font-size="16.6"><tspan font-family="Liberation Serif, serif" font-size="17.5">χ</tspan>=−1/2<tspan font-family="Liberation Serif, serif" font-size="17.5">π</tspan></text>
<text x="246" y="735.5" text-anchor="middle" font-family="Liberation Sans, sans-serif" font-size="19.75">Quarter-wave plate orientation angle <tspan font-family="Liberation Serif, serif" font-style="italic" font-size="19">γ</tspan> (°)</text>
<text transform="translate(33.5,557.3) rotate(-90)" text-anchor="middle" font-family="Liberation Sans, sans-serif" font-size="19.4"><tspan font-style="italic">M</tspan><tspan font-style="italic" font-size="13" dy="4">z</tspan><tspan dy="-4"> (pN·nm/(mW μm</tspan><tspan font-size="13" dy="-7">-2</tspan><tspan dy="7">))</tspan></text>
<text x="15" y="430.5" font-family="Liberation Sans, sans-serif" font-size="21.5">(c)</text>
<polygon points="102.8,444.5 102.8,514.5 163,479.5" fill="#bdd7ee"/>
<g stroke="#7f7f7f" stroke-width="1.2" fill="none"><line x1="123.5" y1="479.5" x2="168" y2="479.5"/><line x1="123.5" y1="479.5" x2="123.5" y2="440"/><line x1="101" y1="442" x2="132" y2="497" stroke-dasharray="6 2 1.5 2"/><path d="M123.5,461.5 A18,18 0 0 0 113.5,464"/></g>
<polygon points="123.5,432.5 120.5,441 126.5,441" fill="#7f7f7f"/><polygon points="176,479.5 167,476.5 167,482.5" fill="#7f7f7f"/>
<text x="128.5" y="443" font-family="Liberation Sans, sans-serif" font-size="15" font-style="italic">y</text><text x="144.5" y="496" font-family="Liberation Sans, sans-serif" font-size="14" font-style="italic">x</text><text x="112.3" y="455.5" font-family="Liberation Serif, serif" font-size="15" font-style="italic">φ</text>
<line x1="89" y1="460.7" x2="99" y2="460.7" stroke="#1fc81f" stroke-width="2"/><polygon points="105.8,460.7 97.3,456.7 97.3,464.7" fill="#1fc81f"/>
<line x1="89" y1="473.7" x2="99" y2="473.7" stroke="#1fc81f" stroke-width="2"/><polygon points="105.8,473.7 97.3,469.7 97.3,477.7" fill="#1fc81f"/>
<line x1="89" y1="486" x2="99" y2="486" stroke="#1fc81f" stroke-width="2"/><polygon points="105.8,486 97.3,482 97.3,490" fill="#1fc81f"/>
<line x1="89" y1="498.5" x2="99" y2="498.5" stroke="#1fc81f" stroke-width="2"/><polygon points="105.8,498.5 97.3,494.5 97.3,502.5" fill="#1fc81f"/>
<!-- chart d -->
<line x1="680.0" y1="428.5" x2="680.0" y2="690.5" stroke="#c0c0c0" stroke-width="1" stroke-dasharray="7.5 4.5" stroke-dashoffset="3"/>
<polyline points="518.50,559.50 520.31,559.13 522.11,558.77 523.92,558.40 525.72,558.04 527.53,557.67 529.33,557.31 531.14,556.95 532.94,556.58 534.75,556.22 536.56,555.86 538.36,555.50 540.17,555.14 541.97,554.79 543.78,554.43 545.58,554.08 547.39,553.72 549.19,553.37 551.00,553.02 552.81,552.68 554.61,552.33 556.42,551.99 558.22,551.65 560.03,551.31 561.83,550.97 563.64,550.64 565.44,550.31 567.25,549.98 569.06,549.66 570.86,549.34 572.67,549.02 574.47,548.70 576.28,548.39 578.08,548.08 579.89,547.78 581.69,547.48 583.50,547.18 585.31,546.89 587.11,546.60 588.92,546.31 590.72,546.03 592.53,545.75 594.33,545.48 596.14,545.21 597.94,544.94 599.75,544.68 601.56,544.42 603.36,544.17 605.17,543.92 606.97,543.68 608.78,543.44 610.58,543.21 612.39,542.98 614.19,542.76 616.00,542.54 617.81,542.33 619.61,542.12 621.42,541.92 623.22,541.72 625.03,541.53 626.83,541.35 628.64,541.17 630.44,540.99 632.25,540.82 634.06,540.66 635.86,540.50 637.67,540.35 639.47,540.21 641.28,540.07 643.08,539.93 644.89,539.80 646.69,539.68 648.50,539.57 650.31,539.46 652.11,539.35 653.92,539.25 655.72,539.16 657.53,539.08 659.33,539.00 661.14,538.93 662.94,538.86 664.75,538.80 666.56,538.74 668.36,538.70 670.17,538.65 671.97,538.62 673.78,538.59 675.58,538.57 677.39,538.55 679.19,538.54 681.00,538.54 682.81,538.54 684.61,538.55 686.42,538.57 688.22,538.59 690.03,538.62 691.83,538.65 693.64,538.70 695.44,538.74 697.25,538.80 699.06,538.86 700.86,538.93 702.67,539.00 704.47,539.08 706.28,539.16 708.08,539.25 709.89,539.35 711.69,539.46 713.50,539.57 715.31,539.68 717.11,539.80 718.92,539.93 720.72,540.07 722.53,540.21 724.33,540.35 726.14,540.50 727.94,540.66 729.75,540.82 731.56,540.99 733.36,541.17 735.17,541.35 736.97,541.53 738.78,541.72 740.58,541.92 742.39,542.12 744.19,542.33 746.00,542.54 747.81,542.76 749.61,542.98 751.42,543.21 753.22,543.44 755.03,543.68 756.83,543.92 758.64,544.17 760.44,544.42 762.25,544.68 764.06,544.94 765.86,545.21 767.67,545.48 769.47,545.75 771.28,546.03 773.08,546.31 774.89,546.60 776.69,546.89 778.50,547.18 780.31,547.48 782.11,547.78 783.92,548.08 785.72,548.39 787.53,548.70 789.33,549.02 791.14,549.34 792.94,549.66 794.75,549.98 796.56,550.31 798.36,550.64 800.17,550.97 801.97,551.31 803.78,551.65 805.58,551.99 807.39,552.33 809.19,552.68 811.00,553.02 812.81,553.37 814.61,553.72 816.42,554.08 818.22,554.43 820.03,554.79 821.83,555.14 823.64,555.50 825.44,555.86 827.25,556.22 829.06,556.58 830.86,556.95 832.67,557.31 834.47,557.67 836.28,558.04 838.08,558.40 839.89,558.77 841.69,559.13 843.50,559.50" fill="none" stroke="#d42a18" stroke-width="1.8" stroke-dasharray="9.3 10"/>
<polyline points="518.50,559.50 520.31,559.87 522.11,560.23 523.92,560.60 525.72,560.96 527.53,561.33 529.33,561.69 531.14,562.05 532.94,562.42 534.75,562.78 536.56,563.14 538.36,563.50 540.17,563.86 541.97,564.21 543.78,564.57 545.58,564.92 547.39,565.28 549.19,565.63 551.00,565.98 552.81,566.32 554.61,566.67 556.42,567.01 558.22,567.35 560.03,567.69 561.83,568.03 563.64,568.36 565.44,568.69 567.25,569.02 569.06,569.34 570.86,569.66 572.67,569.98 574.47,570.30 576.28,570.61 578.08,570.92 579.89,571.22 581.69,571.52 583.50,571.82 585.31,572.11 587.11,572.40 588.92,572.69 590.72,572.97 592.53,573.25 594.33,573.52 596.14,573.79 597.94,574.06 599.75,574.32 601.56,574.58 603.36,574.83 605.17,575.08 606.97,575.32 608.78,575.56 610.58,575.79 612.39,576.02 614.19,576.24 616.00,576.46 617.81,576.67 619.61,576.88 621.42,577.08 623.22,577.28 625.03,577.47 626.83,577.65 628.64,577.83 630.44,578.01 632.25,578.18 634.06,578.34 635.86,578.50 637.67,578.65 639.47,578.79 641.28,578.93 643.08,579.07 644.89,579.20 646.69,579.32 648.50,579.43 650.31,579.54 652.11,579.65 653.92,579.75 655.72,579.84 657.53,579.92 659.33,580.00 661.14,580.07 662.94,580.14 664.75,580.20 666.56,580.26 668.36,580.30 670.17,580.35 671.97,580.38 673.78,580.41 675.58,580.43 677.39,580.45 679.19,580.46 681.00,580.46 682.81,580.46 684.61,580.45 686.42,580.43 688.22,580.41 690.03,580.38 691.83,580.35 693.64,580.30 695.44,580.26 697.25,580.20 699.06,580.14 700.86,580.07 702.67,580.00 704.47,579.92 706.28,579.84 708.08,579.75 709.89,579.65 711.69,579.54 713.50,579.43 715.31,579.32 717.11,579.20 718.92,579.07 720.72,578.93 722.53,578.79 724.33,578.65 726.14,578.50 727.94,578.34 729.75,578.18 731.56,578.01 733.36,577.83 735.17,577.65 736.97,577.47 738.78,577.28 740.58,577.08 742.39,576.88 744.19,576.67 746.00,576.46 747.81,576.24 749.61,576.02 751.42,575.79 753.22,575.56 755.03,575.32 756.83,575.08 758.64,574.83 760.44,574.58 762.25,574.32 764.06,574.06 765.86,573.79 767.67,573.52 769.47,573.25 771.28,572.97 773.08,572.69 774.89,572.40 776.69,572.11 778.50,571.82 780.31,571.52 782.11,571.22 783.92,570.92 785.72,570.61 787.53,570.30 789.33,569.98 791.14,569.66 792.94,569.34 794.75,569.02 796.56,568.69 798.36,568.36 800.17,568.03 801.97,567.69 803.78,567.35 805.58,567.01 807.39,566.67 809.19,566.32 811.00,565.98 812.81,565.63 814.61,565.28 816.42,564.92 818.22,564.57 820.03,564.21 821.83,563.86 823.64,563.50 825.44,563.14 827.25,562.78 829.06,562.42 830.86,562.05 832.67,561.69 834.47,561.33 836.28,560.96 838.08,560.60 839.89,560.23 841.69,559.87 843.50,559.50" fill="none" stroke="#1428b4" stroke-width="1.8" stroke-dasharray="9.3 10" stroke-dashoffset="9.3"/>
<polyline points="518.50,670.33 520.31,670.50 522.11,670.64 523.92,670.75 525.72,670.82 527.53,670.86 529.33,670.87 531.14,670.84 532.94,670.78 534.75,670.68 536.56,670.55 538.36,670.39 540.17,670.19 541.97,669.96 543.78,669.70 545.58,669.40 547.39,669.07 549.19,668.70 551.00,668.30 552.81,667.87 554.61,667.41 556.42,666.91 558.22,666.38 560.03,665.82 561.83,665.22 563.64,664.59 565.44,663.93 567.25,663.24 569.06,662.52 570.86,661.77 572.67,660.98 574.47,660.16 576.28,659.32 578.08,658.44 579.89,657.53 581.69,656.59 583.50,655.63 585.31,654.63 587.11,653.61 588.92,652.55 590.72,651.47 592.53,650.36 594.33,649.22 596.14,648.06 597.94,646.87 599.75,645.65 601.56,644.40 603.36,643.13 605.17,641.83 606.97,640.51 608.78,639.17 610.58,637.80 612.39,636.40 614.19,634.98 616.00,633.54 617.81,632.08 619.61,630.60 621.42,629.09 623.22,627.56 625.03,626.01 626.83,624.44 628.64,622.85 630.44,621.25 632.25,619.62 634.06,617.97 635.86,616.31 637.67,614.63 639.47,612.93 641.28,611.22 643.08,609.49 644.89,607.75 646.69,605.99 648.50,604.21 650.31,602.43 652.11,600.63 653.92,598.81 655.72,596.99 657.53,595.15 659.33,593.31 661.14,591.45 662.94,589.58 664.75,587.71 666.56,585.82 668.36,583.93 670.17,582.03 671.97,580.12 673.78,578.21 675.58,576.29 677.39,574.37 679.19,572.44 681.00,570.50 682.81,568.57 684.61,566.63 686.42,564.69 688.22,562.75 690.03,560.80 691.83,558.86 693.64,556.92 695.44,554.97 697.25,553.03 699.06,551.09 700.86,549.16 702.67,547.22 704.47,545.29 706.28,543.37 708.08,541.45 709.89,539.53 711.69,537.62 713.50,535.72 715.31,533.82 717.11,531.94 718.92,530.06 720.72,528.19 722.53,526.33 724.33,524.48 726.14,522.64 727.94,520.81 729.75,518.99 731.56,517.19 733.36,515.39 735.17,513.62 736.97,511.85 738.78,510.10 740.58,508.37 742.39,506.65 744.19,504.95 746.00,503.26 747.81,501.59 749.61,499.94 751.42,498.31 753.22,496.69 755.03,495.10 756.83,493.52 758.64,491.96 760.44,490.43 762.25,488.92 764.06,487.42 765.86,485.95 767.67,484.50 769.47,483.08 771.28,481.68 773.08,480.30 774.89,478.94 776.69,477.61 778.50,476.31 780.31,475.03 782.11,473.77 783.92,472.55 785.72,471.35 787.53,470.17 789.33,469.02 791.14,467.90 792.94,466.81 794.75,465.75 796.56,464.71 798.36,463.71 800.17,462.73 801.97,461.78 803.78,460.87 805.58,459.98 807.39,459.12 809.19,458.29 811.00,457.50 812.81,456.73 814.61,456.00 816.42,455.30 818.22,454.63 820.03,453.99 821.83,453.38 823.64,452.81 825.44,452.27 827.25,451.76 829.06,451.28 830.86,450.84 832.67,450.43 834.47,450.05 836.28,449.71 838.08,449.40 839.89,449.13 841.69,448.88 843.50,448.67" fill="none" stroke="#1428b4" stroke-width="1.8" />
<polyline points="518.50,670.33 520.31,670.12 522.11,669.87 523.92,669.60 525.72,669.29 527.53,668.95 529.33,668.57 531.14,668.16 532.94,667.72 534.75,667.24 536.56,666.73 538.36,666.19 540.17,665.62 541.97,665.01 543.78,664.37 545.58,663.70 547.39,663.00 549.19,662.27 551.00,661.50 552.81,660.71 554.61,659.88 556.42,659.02 558.22,658.13 560.03,657.22 561.83,656.27 563.64,655.29 565.44,654.29 567.25,653.25 569.06,652.19 570.86,651.10 572.67,649.98 574.47,648.83 576.28,647.65 578.08,646.45 579.89,645.23 581.69,643.97 583.50,642.69 585.31,641.39 587.11,640.06 588.92,638.70 590.72,637.32 592.53,635.92 594.33,634.50 596.14,633.05 597.94,631.58 599.75,630.08 601.56,628.57 603.36,627.04 605.17,625.48 606.97,623.90 608.78,622.31 610.58,620.69 612.39,619.06 614.19,617.41 616.00,615.74 617.81,614.05 619.61,612.35 621.42,610.63 623.22,608.90 625.03,607.15 626.83,605.38 628.64,603.61 630.44,601.81 632.25,600.01 634.06,598.19 635.86,596.36 637.67,594.52 639.47,592.67 641.28,590.81 643.08,588.94 644.89,587.06 646.69,585.18 648.50,583.28 650.31,581.38 652.11,579.47 653.92,577.55 655.72,575.63 657.53,573.71 659.33,571.78 661.14,569.84 662.94,567.91 664.75,565.97 666.56,564.03 668.36,562.08 670.17,560.14 671.97,558.20 673.78,556.25 675.58,554.31 677.39,552.37 679.19,550.43 681.00,548.50 682.81,546.56 684.61,544.63 686.42,542.71 688.22,540.79 690.03,538.88 691.83,536.97 693.64,535.07 695.44,533.18 697.25,531.29 699.06,529.42 700.86,527.55 702.67,525.69 704.47,523.85 706.28,522.01 708.08,520.19 709.89,518.37 711.69,516.57 713.50,514.79 715.31,513.01 717.11,511.25 718.92,509.51 720.72,507.78 722.53,506.07 724.33,504.37 726.14,502.69 727.94,501.03 729.75,499.38 731.56,497.75 733.36,496.15 735.17,494.56 736.97,492.99 738.78,491.44 740.58,489.91 742.39,488.40 744.19,486.92 746.00,485.46 747.81,484.02 749.61,482.60 751.42,481.20 753.22,479.83 755.03,478.49 756.83,477.17 758.64,475.87 760.44,474.60 762.25,473.35 764.06,472.13 765.86,470.94 767.67,469.78 769.47,468.64 771.28,467.53 773.08,466.45 774.89,465.39 776.69,464.37 778.50,463.37 780.31,462.41 782.11,461.47 783.92,460.56 785.72,459.68 787.53,458.84 789.33,458.02 791.14,457.23 792.94,456.48 794.75,455.76 796.56,455.07 798.36,454.41 800.17,453.78 801.97,453.18 803.78,452.62 805.58,452.09 807.39,451.59 809.19,451.13 811.00,450.70 812.81,450.30 814.61,449.93 816.42,449.60 818.22,449.30 820.03,449.04 821.83,448.81 823.64,448.61 825.44,448.45 827.25,448.32 829.06,448.22 830.86,448.16 832.67,448.13 834.47,448.14 836.28,448.18 838.08,448.25 839.89,448.36 841.69,448.50 843.50,448.67" fill="none" stroke="#d42a18" stroke-width="1.8" />
<rect x="518.5" y="428.5" width="325.0" height="262.0" fill="none" stroke="#000" stroke-width="1"/>
<line x1="513.0" y1="664.30" x2="518.5" y2="664.30" stroke="#000" stroke-width="1"/>
<text x="510.0" y="670.10" text-anchor="end" font-family="Liberation Sans, sans-serif" font-size="16.5">-4</text>
<line x1="515.3" y1="638.10" x2="518.5" y2="638.10" stroke="#000" stroke-width="1"/>
<line x1="513.0" y1="611.90" x2="518.5" y2="611.90" stroke="#000" stroke-width="1"/>
<text x="510.0" y="617.70" text-anchor="end" font-family="Liberation Sans, sans-serif" font-size="16.5">-2</text>
<line x1="515.3" y1="585.70" x2="518.5" y2="585.70" stroke="#000" stroke-width="1"/>
<line x1="513.0" y1="559.50" x2="518.5" y2="559.50" stroke="#000" stroke-width="1"/>
<text x="510.0" y="565.30" text-anchor="end" font-family="Liberation Sans, sans-serif" font-size="16.5">0</text>
<line x1="515.3" y1="533.30" x2="518.5" y2="533.30" stroke="#000" stroke-width="1"/>
<line x1="513.0" y1="507.10" x2="518.5" y2="507.10" stroke="#000" stroke-width="1"/>
<text x="510.0" y="512.90" text-anchor="end" font-family="Liberation Sans, sans-serif" font-size="16.5">2</text>
<line x1="515.3" y1="480.90" x2="518.5" y2="480.90" stroke="#000" stroke-width="1"/>
<line x1="513.0" y1="454.70" x2="518.5" y2="454.70" stroke="#000" stroke-width="1"/>
<text x="510.0" y="460.50" text-anchor="end" font-family="Liberation Sans, sans-serif" font-size="16.5">4</text>
<line x1="518.50" y1="690.5" x2="518.50" y2="696.0" stroke="#000" stroke-width="1"/>
<text x="518.50" y="712.3" text-anchor="middle" font-family="Liberation Sans, sans-serif" font-size="16.5">0</text>
<line x1="572.67" y1="690.5" x2="572.67" y2="696.0" stroke="#000" stroke-width="1"/>
<text x="572.67" y="712.3" text-anchor="middle" font-family="Liberation Sans, sans-serif" font-size="16.5">15</text>
<line x1="626.83" y1="690.5" x2="626.83" y2="696.0" stroke="#000" stroke-width="1"/>
<text x="626.83" y="712.3" text-anchor="middle" font-family="Liberation Sans, sans-serif" font-size="16.5">30</text>
<line x1="681.00" y1="690.5" x2="681.00" y2="696.0" stroke="#000" stroke-width="1"/>
<text x="681.00" y="712.3" text-anchor="middle" font-family="Liberation Sans, sans-serif" font-size="16.5">45</text>
<line x1="735.17" y1="690.5" x2="735.17" y2="696.0" stroke="#000" stroke-width="1"/>
<text x="735.17" y="712.3" text-anchor="middle" font-family="Liberation Sans, sans-serif" font-size="16.5">60</text>
<line x1="789.33" y1="690.5" x2="789.33" y2="696.0" stroke="#000" stroke-width="1"/>
<text x="789.33" y="712.3" text-anchor="middle" font-family="Liberation Sans, sans-serif" font-size="16.5">75</text>
<line x1="843.50" y1="690.5" x2="843.50" y2="696.0" stroke="#000" stroke-width="1"/>
<text x="843.50" y="712.3" text-anchor="middle" font-family="Liberation Sans, sans-serif" font-size="16.5">90</text>
<line x1="545.58" y1="690.5" x2="545.58" y2="693.7" stroke="#000" stroke-width="1"/>
<line x1="599.75" y1="690.5" x2="599.75" y2="693.7" stroke="#000" stroke-width="1"/>
<line x1="653.92" y1="690.5" x2="653.92" y2="693.7" stroke="#000" stroke-width="1"/>
<line x1="708.08" y1="690.5" x2="708.08" y2="693.7" stroke="#000" stroke-width="1"/>
<line x1="762.25" y1="690.5" x2="762.25" y2="693.7" stroke="#000" stroke-width="1"/>
<line x1="816.42" y1="690.5" x2="816.42" y2="693.7" stroke="#000" stroke-width="1"/>
<circle cx="681.0" cy="538.5" r="3.1" fill="none" stroke="#d42a18" stroke-width="1"/>
<circle cx="681.0" cy="548.5" r="3.1" fill="none" stroke="#d42a18" stroke-width="1"/>
<circle cx="681.0" cy="570.5" r="3.1" fill="none" stroke="#1428b4" stroke-width="1"/>
<circle cx="681.0" cy="580.5" r="3.1" fill="none" stroke="#1428b4" stroke-width="1"/>
<text x="644" y="552.5" font-family="Liberation Sans, sans-serif" font-size="12.2" fill="#d42a18">LCP</text>
<text x="684" y="597.5" font-family="Liberation Sans, sans-serif" font-size="12.2" fill="#1428b4">RCP</text>
<line x1="526.5" y1="443.8" x2="563" y2="443.8" stroke="#c0281a" stroke-width="2" />
<text x="567" y="449.40000000000003" font-family="Liberation Sans, sans-serif" font-size="16.4"><tspan font-family="Liberation Serif, serif" font-size="17.5">χ</tspan>=1/2<tspan font-family="Liberation Serif, serif" font-size="17.5">π; </tspan><tspan font-family="Liberation Serif, serif" font-style="italic" font-size="17.5">θ</tspan><tspan font-family="Liberation Serif, serif" font-size="16.5">=40°</tspan></text>
<line x1="526.5" y1="465.5" x2="563" y2="465.5" stroke="#1428b4" stroke-width="1.1" />
<text x="567" y="471.1" font-family="Liberation Sans, sans-serif" font-size="16.4"><tspan font-family="Liberation Serif, serif" font-size="17.5">χ</tspan>=−1/2<tspan font-family="Liberation Serif, serif" font-size="17.5">π; </tspan><tspan font-family="Liberation Serif, serif" font-style="italic" font-size="17.5">θ</tspan><tspan font-family="Liberation Serif, serif" font-size="16.5">=40°</tspan></text>
<line x1="526.5" y1="486.5" x2="555.5" y2="486.5" stroke="#d42a18" stroke-width="2" stroke-dasharray="10.5 7.5"/>
<text x="567" y="492.1" font-family="Liberation Sans, sans-serif" font-size="16.4"><tspan font-family="Liberation Serif, serif" font-size="17.5">χ</tspan>=1/2<tspan font-family="Liberation Serif, serif" font-size="17.5">π; </tspan><tspan font-family="Liberation Serif, serif" font-style="italic" font-size="17.5">θ</tspan><tspan font-family="Liberation Serif, serif" font-size="16.5">=0°</tspan></text>
<line x1="526.5" y1="508.5" x2="555.5" y2="508.5" stroke="#1428b4" stroke-width="2" stroke-dasharray="10.5 7.5"/>
<text x="567" y="514.1" font-family="Liberation Sans, sans-serif" font-size="16.4"><tspan font-family="Liberation Serif, serif" font-size="17.5">χ</tspan>=−1/2<tspan font-family="Liberation Serif, serif" font-size="17.5">π; </tspan><tspan font-family="Liberation Serif, serif" font-style="italic" font-size="17.5">θ</tspan><tspan font-family="Liberation Serif, serif" font-size="16.5">=0°</tspan></text>
<text x="680" y="735.5" text-anchor="middle" font-family="Liberation Sans, sans-serif" font-size="19.75">Quarter-wave plate orientation angle <tspan font-family="Liberation Serif, serif" font-style="italic" font-size="19">γ</tspan> (°)</text>
<text transform="translate(482.3,558.1) rotate(-90)" text-anchor="middle" font-family="Liberation Sans, sans-serif" font-size="19.4"><tspan font-style="italic">M</tspan><tspan font-style="italic" font-size="13" dy="4">z</tspan><tspan dy="-4"> (pN·nm/(mW μm</tspan><tspan font-size="13" dy="-7">-2</tspan><tspan dy="7">))</tspan></text>
<text x="457" y="430.5" font-family="Liberation Sans, sans-serif" font-size="21.5">(d)</text>
<text x="823.5" y="481.5" font-family="Liberation Sans, sans-serif" font-size="22">s</text>
<text x="521" y="653" font-family="Liberation Sans, sans-serif" font-size="23.5">p</text>
<path d="M564,577 C546,592 541,610 555,643" fill="none" stroke="#000" stroke-width="1"/><polygon points="558.5,648.5 551.5,642.5 558.5,640" fill="#000"/>
<path d="M795,542 C816,523 819,500 805,475" fill="none" stroke="#000" stroke-width="1"/><polygon points="802,470.5 809,476.5 802,479" fill="#000"/>
<polygon points="771,593.5 734.5,657.5 808,657.5" fill="#bdd7ee"/>
<line x1="729" y1="610" x2="752" y2="610" stroke="#1fc81f" stroke-width="2"/><polygon points="760,610 751,606 751,614" fill="#1fc81f"/>
<line x1="729" y1="622" x2="752" y2="622" stroke="#1fc81f" stroke-width="2"/><polygon points="760,622 751,618 751,626" fill="#1fc81f"/>
<line x1="729" y1="634.5" x2="752" y2="634.5" stroke="#1fc81f" stroke-width="2"/><polygon points="760,634.5 751,630.5 751,638.5" fill="#1fc81f"/>
<line x1="729" y1="647" x2="752" y2="647" stroke="#1fc81f" stroke-width="2"/><polygon points="760,647 751,643 751,651" fill="#1fc81f"/>
</svg>
</body></html>
